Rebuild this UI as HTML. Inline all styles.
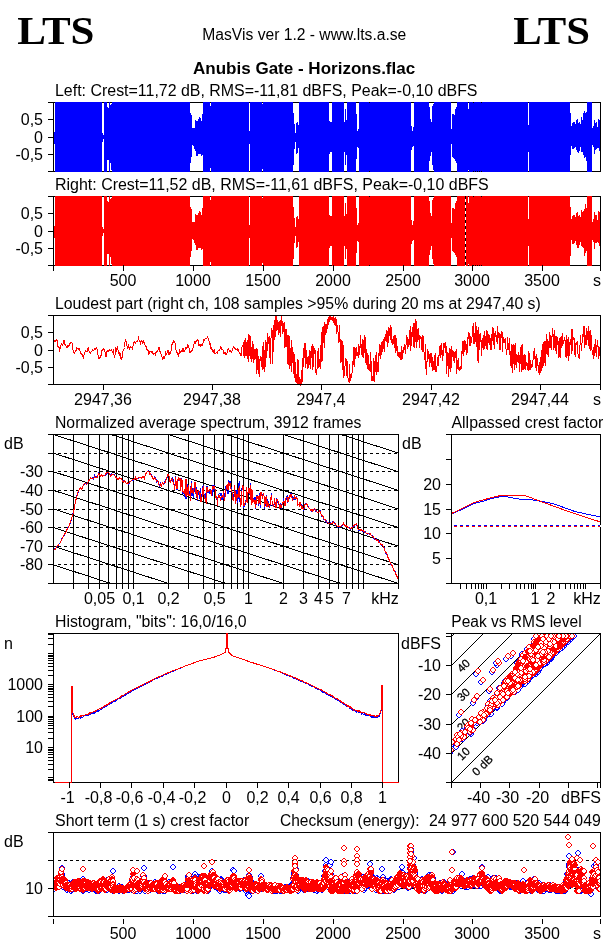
<!DOCTYPE html>
<html><head><meta charset="utf-8"><title>MasVis - Anubis Gate - Horizons.flac</title>
<style>html,body{margin:0;padding:0;background:#fff}body{width:606px;height:946px;overflow:hidden}text{fill:#000}</style>
</head><body>
<svg width="606" height="946" viewBox="0 0 606 946" shape-rendering="crispEdges" style="display:block">
<text x="17.2" y="44" font-size="40.8" font-weight="bold" font-family="'Liberation Serif', serif" text-anchor="start" textLength="77.3" lengthAdjust="spacingAndGlyphs">LTS</text>
<text x="513.2" y="44" font-size="40.8" font-weight="bold" font-family="'Liberation Serif', serif" text-anchor="start" textLength="76.8" lengthAdjust="spacingAndGlyphs">LTS</text>
<text x="202.3" y="40" font-size="16" font-weight="normal" font-family="'Liberation Sans', sans-serif" text-anchor="start" textLength="204" lengthAdjust="spacingAndGlyphs">MasVis ver 1.2 - www.lts.a.se</text>
<text x="193" y="74" font-size="16" font-weight="bold" font-family="'Liberation Sans', sans-serif" text-anchor="start" textLength="222.2" lengthAdjust="spacingAndGlyphs">Anubis Gate - Horizons.flac</text>
<text x="55.0" y="96" font-size="16" font-weight="normal" font-family="'Liberation Sans', sans-serif" text-anchor="start" textLength="422.5" lengthAdjust="spacingAndGlyphs">Left: Crest=11,72 dB, RMS=-11,81 dBFS, Peak=-0,10 dBFS</text>
<rect x="53.5" y="102.5" width="547" height="69" fill="none" stroke="#000"/>
<rect x="55" y="102" width="47" height="70" fill="#0000ff"/>
<rect x="102" y="133" width="1" height="9" fill="#0000ff"/>
<rect x="103" y="135" width="1" height="4" fill="#0000ff"/>
<rect x="104" y="102" width="3" height="70" fill="#0000ff"/>
<rect x="107" y="107" width="1" height="53" fill="#0000ff"/>
<rect x="108" y="108" width="1" height="52" fill="#0000ff"/>
<rect x="109" y="102" width="1" height="70" fill="#0000ff"/>
<rect x="110" y="105" width="1" height="58" fill="#0000ff"/>
<rect x="111" y="104" width="1" height="66" fill="#0000ff"/>
<rect x="112" y="102" width="78" height="70" fill="#0000ff"/>
<rect x="190" y="113" width="1" height="50" fill="#0000ff"/>
<rect x="191" y="115" width="1" height="42" fill="#0000ff"/>
<rect x="192" y="128" width="1" height="17" fill="#0000ff"/>
<rect x="193" y="128" width="1" height="18" fill="#0000ff"/>
<rect x="194" y="128" width="1" height="21" fill="#0000ff"/>
<rect x="195" y="120" width="1" height="31" fill="#0000ff"/>
<rect x="196" y="121" width="1" height="35" fill="#0000ff"/>
<rect x="197" y="121" width="1" height="35" fill="#0000ff"/>
<rect x="198" y="119" width="1" height="35" fill="#0000ff"/>
<rect x="199" y="117" width="1" height="37" fill="#0000ff"/>
<rect x="200" y="118" width="1" height="36" fill="#0000ff"/>
<rect x="201" y="121" width="1" height="35" fill="#0000ff"/>
<rect x="202" y="114" width="1" height="41" fill="#0000ff"/>
<rect x="203" y="102" width="7" height="70" fill="#0000ff"/>
<rect x="210" y="106" width="1" height="62" fill="#0000ff"/>
<rect x="211" y="102" width="38" height="70" fill="#0000ff"/>
<rect x="249" y="131" width="1" height="13" fill="#0000ff"/>
<rect x="250" y="102" width="12" height="70" fill="#0000ff"/>
<rect x="262" y="104" width="1" height="65" fill="#0000ff"/>
<rect x="263" y="102" width="30" height="70" fill="#0000ff"/>
<rect x="293" y="113" width="1" height="52" fill="#0000ff"/>
<rect x="294" y="124" width="1" height="25" fill="#0000ff"/>
<rect x="295" y="133" width="1" height="9" fill="#0000ff"/>
<rect x="296" y="123" width="1" height="31" fill="#0000ff"/>
<rect x="297" y="122" width="1" height="31" fill="#0000ff"/>
<rect x="298" y="125" width="1" height="23" fill="#0000ff"/>
<rect x="299" y="102" width="30" height="70" fill="#0000ff"/>
<rect x="329" y="121" width="1" height="33" fill="#0000ff"/>
<rect x="330" y="122" width="1" height="30" fill="#0000ff"/>
<rect x="331" y="122" width="1" height="30" fill="#0000ff"/>
<rect x="332" y="102" width="12" height="70" fill="#0000ff"/>
<rect x="344" y="122" width="1" height="30" fill="#0000ff"/>
<rect x="345" y="109" width="1" height="56" fill="#0000ff"/>
<rect x="346" y="120" width="1" height="35" fill="#0000ff"/>
<rect x="347" y="102" width="9" height="70" fill="#0000ff"/>
<rect x="356" y="114" width="1" height="45" fill="#0000ff"/>
<rect x="357" y="131" width="1" height="16" fill="#0000ff"/>
<rect x="358" y="129" width="1" height="19" fill="#0000ff"/>
<rect x="359" y="102" width="10" height="70" fill="#0000ff"/>
<rect x="369" y="103" width="1" height="68" fill="#0000ff"/>
<rect x="370" y="102" width="41" height="70" fill="#0000ff"/>
<rect x="411" y="126" width="1" height="24" fill="#0000ff"/>
<rect x="412" y="131" width="1" height="16" fill="#0000ff"/>
<rect x="413" y="127" width="1" height="19" fill="#0000ff"/>
<rect x="414" y="102" width="15" height="70" fill="#0000ff"/>
<rect x="429" y="107" width="1" height="54" fill="#0000ff"/>
<rect x="430" y="119" width="1" height="37" fill="#0000ff"/>
<rect x="431" y="122" width="1" height="30" fill="#0000ff"/>
<rect x="432" y="106" width="1" height="59" fill="#0000ff"/>
<rect x="433" y="104" width="1" height="66" fill="#0000ff"/>
<rect x="434" y="102" width="17" height="70" fill="#0000ff"/>
<rect x="451" y="129" width="1" height="15" fill="#0000ff"/>
<rect x="452" y="114" width="1" height="43" fill="#0000ff"/>
<rect x="453" y="114" width="1" height="44" fill="#0000ff"/>
<rect x="454" y="115" width="1" height="44" fill="#0000ff"/>
<rect x="455" y="109" width="1" height="52" fill="#0000ff"/>
<rect x="456" y="107" width="1" height="56" fill="#0000ff"/>
<rect x="457" y="102" width="11" height="70" fill="#0000ff"/>
<rect x="468" y="109" width="1" height="61" fill="#0000ff"/>
<rect x="469" y="102" width="4" height="70" fill="#0000ff"/>
<rect x="473" y="103" width="1" height="68" fill="#0000ff"/>
<rect x="474" y="102" width="1" height="70" fill="#0000ff"/>
<rect x="475" y="102" width="1" height="69" fill="#0000ff"/>
<rect x="476" y="102" width="1" height="70" fill="#0000ff"/>
<rect x="477" y="102" width="1" height="69" fill="#0000ff"/>
<rect x="478" y="102" width="1" height="70" fill="#0000ff"/>
<rect x="479" y="102" width="1" height="69" fill="#0000ff"/>
<rect x="480" y="102" width="1" height="70" fill="#0000ff"/>
<rect x="481" y="103" width="1" height="68" fill="#0000ff"/>
<rect x="482" y="102" width="46" height="70" fill="#0000ff"/>
<rect x="528" y="125" width="1" height="27" fill="#0000ff"/>
<rect x="529" y="102" width="41" height="70" fill="#0000ff"/>
<rect x="570" y="113" width="1" height="42" fill="#0000ff"/>
<rect x="571" y="126" width="1" height="20" fill="#0000ff"/>
<rect x="572" y="123" width="1" height="26" fill="#0000ff"/>
<rect x="573" y="122" width="1" height="27" fill="#0000ff"/>
<rect x="574" y="122" width="1" height="26" fill="#0000ff"/>
<rect x="575" y="124" width="1" height="23" fill="#0000ff"/>
<rect x="576" y="120" width="1" height="30" fill="#0000ff"/>
<rect x="577" y="119" width="1" height="33" fill="#0000ff"/>
<rect x="578" y="123" width="1" height="30" fill="#0000ff"/>
<rect x="579" y="122" width="1" height="29" fill="#0000ff"/>
<rect x="580" y="124" width="1" height="23" fill="#0000ff"/>
<rect x="581" y="117" width="1" height="35" fill="#0000ff"/>
<rect x="582" y="120" width="1" height="32" fill="#0000ff"/>
<rect x="583" y="113" width="1" height="42" fill="#0000ff"/>
<rect x="584" y="111" width="1" height="47" fill="#0000ff"/>
<rect x="585" y="113" width="1" height="44" fill="#0000ff"/>
<rect x="586" y="112" width="1" height="49" fill="#0000ff"/>
<rect x="587" y="102" width="5" height="70" fill="#0000ff"/>
<rect x="592" y="128" width="1" height="17" fill="#0000ff"/>
<rect x="593" y="126" width="1" height="21" fill="#0000ff"/>
<rect x="594" y="120" width="1" height="34" fill="#0000ff"/>
<rect x="595" y="123" width="1" height="27" fill="#0000ff"/>
<rect x="596" y="122" width="1" height="27" fill="#0000ff"/>
<rect x="597" y="127" width="1" height="21" fill="#0000ff"/>
<rect x="598" y="119" width="1" height="29" fill="#0000ff"/>
<rect x="599" y="120" width="1" height="31" fill="#0000ff"/>
<line x1="53.5" y1="102" x2="53.5" y2="172" stroke="#000" stroke-width="1"/>
<rect x="54" y="132" width="1" height="12" fill="#0000ff"/>
<line x1="48" y1="102.5" x2="53" y2="102.5" stroke="#000" stroke-width="1"/>
<line x1="48" y1="119.5" x2="53" y2="119.5" stroke="#000" stroke-width="1"/>
<text x="43" y="125" font-size="16" font-weight="normal" font-family="'Liberation Sans', sans-serif" text-anchor="end" >0,5</text>
<line x1="48" y1="137.5" x2="53" y2="137.5" stroke="#000" stroke-width="1"/>
<text x="43" y="143" font-size="16" font-weight="normal" font-family="'Liberation Sans', sans-serif" text-anchor="end" >0</text>
<line x1="48" y1="154.5" x2="53" y2="154.5" stroke="#000" stroke-width="1"/>
<text x="43" y="160" font-size="16" font-weight="normal" font-family="'Liberation Sans', sans-serif" text-anchor="end" >-0,5</text>
<line x1="48" y1="171.5" x2="53" y2="171.5" stroke="#000" stroke-width="1"/>
<text x="55.0" y="190" font-size="16" font-weight="normal" font-family="'Liberation Sans', sans-serif" text-anchor="start" textLength="433.7" lengthAdjust="spacingAndGlyphs">Right: Crest=11,52 dB, RMS=-11,61 dBFS, Peak=-0,10 dBFS</text>
<rect x="53.5" y="196.5" width="547" height="69" fill="none" stroke="#000"/>
<rect x="55" y="196" width="47" height="70" fill="#ff0000"/>
<rect x="102" y="227" width="1" height="9" fill="#ff0000"/>
<rect x="103" y="229" width="1" height="4" fill="#ff0000"/>
<rect x="104" y="196" width="3" height="70" fill="#ff0000"/>
<rect x="107" y="201" width="1" height="53" fill="#ff0000"/>
<rect x="108" y="202" width="1" height="52" fill="#ff0000"/>
<rect x="109" y="196" width="1" height="70" fill="#ff0000"/>
<rect x="110" y="199" width="1" height="58" fill="#ff0000"/>
<rect x="111" y="198" width="1" height="66" fill="#ff0000"/>
<rect x="112" y="196" width="78" height="70" fill="#ff0000"/>
<rect x="190" y="207" width="1" height="50" fill="#ff0000"/>
<rect x="191" y="209" width="1" height="42" fill="#ff0000"/>
<rect x="192" y="222" width="1" height="17" fill="#ff0000"/>
<rect x="193" y="222" width="1" height="18" fill="#ff0000"/>
<rect x="194" y="222" width="1" height="21" fill="#ff0000"/>
<rect x="195" y="214" width="1" height="31" fill="#ff0000"/>
<rect x="196" y="215" width="1" height="35" fill="#ff0000"/>
<rect x="197" y="215" width="1" height="35" fill="#ff0000"/>
<rect x="198" y="213" width="1" height="35" fill="#ff0000"/>
<rect x="199" y="211" width="1" height="37" fill="#ff0000"/>
<rect x="200" y="212" width="1" height="36" fill="#ff0000"/>
<rect x="201" y="215" width="1" height="35" fill="#ff0000"/>
<rect x="202" y="208" width="1" height="41" fill="#ff0000"/>
<rect x="203" y="196" width="7" height="70" fill="#ff0000"/>
<rect x="210" y="200" width="1" height="62" fill="#ff0000"/>
<rect x="211" y="196" width="38" height="70" fill="#ff0000"/>
<rect x="249" y="225" width="1" height="13" fill="#ff0000"/>
<rect x="250" y="196" width="12" height="70" fill="#ff0000"/>
<rect x="262" y="198" width="1" height="65" fill="#ff0000"/>
<rect x="263" y="196" width="30" height="70" fill="#ff0000"/>
<rect x="293" y="207" width="1" height="52" fill="#ff0000"/>
<rect x="294" y="218" width="1" height="25" fill="#ff0000"/>
<rect x="295" y="227" width="1" height="9" fill="#ff0000"/>
<rect x="296" y="217" width="1" height="31" fill="#ff0000"/>
<rect x="297" y="216" width="1" height="31" fill="#ff0000"/>
<rect x="298" y="219" width="1" height="23" fill="#ff0000"/>
<rect x="299" y="196" width="30" height="70" fill="#ff0000"/>
<rect x="329" y="215" width="1" height="33" fill="#ff0000"/>
<rect x="330" y="216" width="1" height="30" fill="#ff0000"/>
<rect x="331" y="216" width="1" height="30" fill="#ff0000"/>
<rect x="332" y="196" width="12" height="70" fill="#ff0000"/>
<rect x="344" y="216" width="1" height="30" fill="#ff0000"/>
<rect x="345" y="203" width="1" height="56" fill="#ff0000"/>
<rect x="346" y="214" width="1" height="35" fill="#ff0000"/>
<rect x="347" y="196" width="9" height="70" fill="#ff0000"/>
<rect x="356" y="208" width="1" height="45" fill="#ff0000"/>
<rect x="357" y="225" width="1" height="16" fill="#ff0000"/>
<rect x="358" y="223" width="1" height="19" fill="#ff0000"/>
<rect x="359" y="196" width="10" height="70" fill="#ff0000"/>
<rect x="369" y="197" width="1" height="68" fill="#ff0000"/>
<rect x="370" y="196" width="41" height="70" fill="#ff0000"/>
<rect x="411" y="220" width="1" height="24" fill="#ff0000"/>
<rect x="412" y="225" width="1" height="16" fill="#ff0000"/>
<rect x="413" y="221" width="1" height="19" fill="#ff0000"/>
<rect x="414" y="196" width="15" height="70" fill="#ff0000"/>
<rect x="429" y="201" width="1" height="54" fill="#ff0000"/>
<rect x="430" y="213" width="1" height="37" fill="#ff0000"/>
<rect x="431" y="216" width="1" height="30" fill="#ff0000"/>
<rect x="432" y="200" width="1" height="59" fill="#ff0000"/>
<rect x="433" y="198" width="1" height="66" fill="#ff0000"/>
<rect x="434" y="196" width="17" height="70" fill="#ff0000"/>
<rect x="451" y="223" width="1" height="15" fill="#ff0000"/>
<rect x="452" y="208" width="1" height="43" fill="#ff0000"/>
<rect x="453" y="208" width="1" height="44" fill="#ff0000"/>
<rect x="454" y="209" width="1" height="44" fill="#ff0000"/>
<rect x="455" y="203" width="1" height="52" fill="#ff0000"/>
<rect x="456" y="201" width="1" height="56" fill="#ff0000"/>
<rect x="457" y="196" width="11" height="70" fill="#ff0000"/>
<rect x="468" y="203" width="1" height="61" fill="#ff0000"/>
<rect x="469" y="196" width="4" height="70" fill="#ff0000"/>
<rect x="473" y="197" width="1" height="68" fill="#ff0000"/>
<rect x="474" y="196" width="1" height="70" fill="#ff0000"/>
<rect x="475" y="196" width="1" height="69" fill="#ff0000"/>
<rect x="476" y="196" width="1" height="70" fill="#ff0000"/>
<rect x="477" y="196" width="1" height="69" fill="#ff0000"/>
<rect x="478" y="196" width="1" height="70" fill="#ff0000"/>
<rect x="479" y="196" width="1" height="69" fill="#ff0000"/>
<rect x="480" y="196" width="1" height="70" fill="#ff0000"/>
<rect x="481" y="197" width="1" height="68" fill="#ff0000"/>
<rect x="482" y="196" width="46" height="70" fill="#ff0000"/>
<rect x="528" y="219" width="1" height="27" fill="#ff0000"/>
<rect x="529" y="196" width="41" height="70" fill="#ff0000"/>
<rect x="570" y="207" width="1" height="49" fill="#ff0000"/>
<rect x="571" y="219" width="1" height="21" fill="#ff0000"/>
<rect x="572" y="216" width="1" height="28" fill="#ff0000"/>
<rect x="573" y="215" width="1" height="29" fill="#ff0000"/>
<rect x="574" y="215" width="1" height="28" fill="#ff0000"/>
<rect x="575" y="217" width="1" height="24" fill="#ff0000"/>
<rect x="576" y="213" width="1" height="32" fill="#ff0000"/>
<rect x="577" y="212" width="1" height="36" fill="#ff0000"/>
<rect x="578" y="216" width="1" height="32" fill="#ff0000"/>
<rect x="579" y="215" width="1" height="30" fill="#ff0000"/>
<rect x="580" y="217" width="1" height="25" fill="#ff0000"/>
<rect x="581" y="210" width="1" height="36" fill="#ff0000"/>
<rect x="582" y="212" width="1" height="35" fill="#ff0000"/>
<rect x="583" y="211" width="1" height="37" fill="#ff0000"/>
<rect x="584" y="209" width="1" height="47" fill="#ff0000"/>
<rect x="585" y="204" width="1" height="49" fill="#ff0000"/>
<rect x="586" y="208" width="1" height="43" fill="#ff0000"/>
<rect x="587" y="196" width="5" height="70" fill="#ff0000"/>
<rect x="592" y="222" width="1" height="18" fill="#ff0000"/>
<rect x="593" y="219" width="1" height="23" fill="#ff0000"/>
<rect x="594" y="212" width="1" height="37" fill="#ff0000"/>
<rect x="595" y="215" width="1" height="28" fill="#ff0000"/>
<rect x="596" y="215" width="1" height="28" fill="#ff0000"/>
<rect x="597" y="220" width="1" height="22" fill="#ff0000"/>
<rect x="598" y="211" width="1" height="32" fill="#ff0000"/>
<rect x="599" y="212" width="1" height="34" fill="#ff0000"/>
<line x1="53.5" y1="196" x2="53.5" y2="266" stroke="#000" stroke-width="1"/>
<rect x="54" y="226" width="1" height="12" fill="#ff0000"/>
<line x1="48" y1="196.5" x2="53" y2="196.5" stroke="#000" stroke-width="1"/>
<line x1="48" y1="213.5" x2="53" y2="213.5" stroke="#000" stroke-width="1"/>
<text x="43" y="219" font-size="16" font-weight="normal" font-family="'Liberation Sans', sans-serif" text-anchor="end" >0,5</text>
<line x1="48" y1="231.5" x2="53" y2="231.5" stroke="#000" stroke-width="1"/>
<text x="43" y="237" font-size="16" font-weight="normal" font-family="'Liberation Sans', sans-serif" text-anchor="end" >0</text>
<line x1="48" y1="248.5" x2="53" y2="248.5" stroke="#000" stroke-width="1"/>
<text x="43" y="254" font-size="16" font-weight="normal" font-family="'Liberation Sans', sans-serif" text-anchor="end" >-0,5</text>
<line x1="48" y1="265.5" x2="53" y2="265.5" stroke="#000" stroke-width="1"/>
<line x1="53.5" y1="265" x2="53.5" y2="271" stroke="#000" stroke-width="1"/>
<line x1="123.5" y1="265" x2="123.5" y2="271" stroke="#000" stroke-width="1"/>
<text x="123" y="286" font-size="16" font-weight="normal" font-family="'Liberation Sans', sans-serif" text-anchor="middle" >500</text>
<line x1="193.5" y1="265" x2="193.5" y2="271" stroke="#000" stroke-width="1"/>
<text x="193" y="286" font-size="16" font-weight="normal" font-family="'Liberation Sans', sans-serif" text-anchor="middle" >1000</text>
<line x1="263.5" y1="265" x2="263.5" y2="271" stroke="#000" stroke-width="1"/>
<text x="263" y="286" font-size="16" font-weight="normal" font-family="'Liberation Sans', sans-serif" text-anchor="middle" >1500</text>
<line x1="333.5" y1="265" x2="333.5" y2="271" stroke="#000" stroke-width="1"/>
<text x="333" y="286" font-size="16" font-weight="normal" font-family="'Liberation Sans', sans-serif" text-anchor="middle" >2000</text>
<line x1="403.5" y1="265" x2="403.5" y2="271" stroke="#000" stroke-width="1"/>
<text x="403" y="286" font-size="16" font-weight="normal" font-family="'Liberation Sans', sans-serif" text-anchor="middle" >2500</text>
<line x1="472.5" y1="265" x2="472.5" y2="271" stroke="#000" stroke-width="1"/>
<text x="472" y="286" font-size="16" font-weight="normal" font-family="'Liberation Sans', sans-serif" text-anchor="middle" >3000</text>
<line x1="542.5" y1="265" x2="542.5" y2="271" stroke="#000" stroke-width="1"/>
<text x="542" y="286" font-size="16" font-weight="normal" font-family="'Liberation Sans', sans-serif" text-anchor="middle" >3500</text>
<line x1="600.5" y1="265" x2="600.5" y2="271" stroke="#000" stroke-width="1"/>
<text x="597" y="286" font-size="16" font-weight="normal" font-family="'Liberation Sans', sans-serif" text-anchor="middle" >s</text>
<line x1="465.5" y1="196" x2="465.5" y2="266" stroke="#fff" stroke-width="1"/>
<line x1="465.5" y1="196" x2="465.5" y2="266" stroke="#000" stroke-width="1" stroke-dasharray="3,3"/>
<text x="55.0" y="309" font-size="16" font-weight="normal" font-family="'Liberation Sans', sans-serif" text-anchor="start" textLength="485.8" lengthAdjust="spacingAndGlyphs">Loudest part (right ch, 108 samples &gt;95% during 20 ms at 2947,40 s)</text>
<polyline fill="none" stroke="#ff0000" stroke-width="1" points="54.5,342.4 54.9,340.8 55.3,341.7 55.7,341.9 56.1,340.1 56.5,339.3 56.9,339.5 57.3,342.5 57.7,346.3 58.1,347.7 58.5,346.7 58.9,346.6 59.3,349.6 59.7,350.7 60.1,348.8 60.5,347.3 60.9,345.1 61.3,343.8 61.7,343.7 62.1,343.9 62.5,345.4 62.9,345.1 63.3,342.4 63.7,340.5 64.1,340.3 64.5,341.9 64.9,345.0 65.3,345.5 65.7,344.7 66.1,345.9 66.5,346.8 66.9,347.6 67.3,347.2 67.7,345.7 68.1,345.5 68.5,346.5 68.9,346.3 69.3,343.7 69.7,343.4 70.1,344.2 70.5,343.2 70.9,342.6 71.3,342.8 71.7,343.0 72.1,343.2 72.5,345.4 72.9,349.4 73.3,351.9 73.7,352.3 74.1,352.5 74.5,352.9 74.9,352.0 75.3,350.6 75.7,351.3 76.1,351.0 76.5,348.1 76.9,347.4 77.3,348.8 77.7,348.6 78.1,348.6 78.5,349.5 78.9,350.0 79.3,348.8 79.7,349.1 80.1,351.5 80.5,352.7 80.9,353.2 81.3,354.0 81.7,355.0 82.1,355.3 82.5,354.9 82.9,356.5 83.3,357.6 83.7,355.8 84.1,354.6 84.5,353.8 84.9,352.2 85.3,350.1 85.7,350.0 86.1,351.7 86.5,351.8 86.9,351.5 87.3,351.1 87.7,349.3 88.1,347.4 88.5,347.5 88.9,350.4 89.3,352.3 89.7,352.8 90.1,353.3 90.5,353.4 90.9,352.5 91.3,351.4 91.7,351.6 92.1,350.9 92.5,349.9 92.9,349.8 93.3,350.5 93.7,350.9 94.1,349.9 94.5,348.1 94.9,348.2 95.3,349.2 95.7,348.2 96.1,347.7 96.5,348.0 96.9,348.8 97.3,349.9 97.7,352.4 98.1,356.1 98.5,358.3 98.9,357.7 99.3,357.3 99.7,358.1 100.1,358.0 100.5,357.0 100.9,355.8 101.3,354.5 101.7,351.7 102.1,349.5 102.5,349.8 102.9,350.3 103.3,349.1 103.7,348.8 104.1,349.6 104.5,350.8 104.9,351.5 105.3,353.4 105.7,356.3 106.1,356.4 106.5,354.1 106.9,351.4 107.3,350.9 107.7,351.7 108.1,352.0 108.5,351.5 108.9,351.0 109.3,349.4 109.7,349.4 110.1,350.9 110.5,350.8 110.9,350.9 111.3,350.0 111.7,349.5 112.1,351.2 112.5,352.0 112.9,351.4 113.3,350.6 113.7,352.1 114.1,356.1 114.5,358.0 114.9,355.8 115.3,351.6 115.7,349.1 116.1,350.0 116.5,350.6 116.9,348.7 117.3,347.2 117.7,348.5 118.1,350.3 118.5,351.0 118.9,354.0 119.3,355.5 119.7,353.1 120.1,353.5 120.5,357.3 120.9,358.5 121.3,357.6 121.7,358.8 122.1,358.2 122.5,354.3 122.9,351.1 123.3,350.3 123.7,349.2 124.1,348.7 124.5,347.5 124.9,343.5 125.3,339.6 125.7,339.7 126.1,341.7 126.5,342.8 126.9,345.2 127.3,347.2 127.7,348.1 128.1,347.7 128.5,345.6 128.9,346.7 129.3,349.1 129.7,348.9 130.1,348.2 130.5,346.8 130.9,346.6 131.3,347.4 131.7,347.4 132.1,348.7 132.5,349.0 132.9,346.8 133.3,344.2 133.7,343.0 134.1,342.6 134.5,342.2 134.9,343.0 135.3,343.4 135.7,342.5 136.1,341.6 136.5,341.4 136.9,341.7 137.3,341.6 137.7,341.3 138.1,339.6 138.5,337.9 138.9,339.2 139.3,340.7 139.7,340.8 140.1,342.3 140.5,343.4 140.9,341.6 141.3,340.4 141.7,341.4 142.1,342.7 142.5,343.2 142.9,341.8 143.3,341.2 143.7,342.5 144.1,342.8 144.5,342.9 144.9,344.6 145.3,346.7 145.7,346.6 146.1,346.1 146.5,347.7 146.9,349.4 147.3,349.6 147.7,349.4 148.1,350.8 148.5,353.6 148.9,354.4 149.3,353.7 149.7,352.0 150.1,350.9 150.5,351.3 150.9,351.0 151.3,351.5 151.7,352.5 152.1,352.1 152.5,351.8 152.9,353.1 153.3,354.5 153.7,354.4 154.1,354.2 154.5,353.7 154.9,354.0 155.3,354.9 155.7,353.1 156.1,351.2 156.5,352.0 156.9,352.5 157.3,351.9 157.7,350.3 158.1,349.5 158.5,349.3 158.9,347.3 159.3,347.9 159.7,351.0 160.1,352.6 160.5,351.9 160.9,352.9 161.3,355.7 161.7,356.7 162.1,357.2 162.5,359.5 162.9,359.8 163.3,358.1 163.7,356.5 164.1,356.3 164.5,358.0 164.9,357.1 165.3,353.2 165.7,351.8 166.1,353.2 166.5,354.3 166.9,353.9 167.3,352.0 167.7,350.5 168.1,350.6 168.5,352.2 168.9,354.6 169.3,354.8 169.7,352.3 170.1,352.0 170.5,353.0 170.9,351.7 171.3,347.9 171.7,345.1 172.1,344.5 172.5,344.7 172.9,343.0 173.3,341.4 173.7,340.5 174.1,341.0 174.5,342.2 174.9,342.6 175.3,344.3 175.7,348.4 176.1,351.0 176.5,351.2 176.9,352.4 177.3,353.7 177.7,352.5 178.1,353.0 178.5,355.7 178.9,354.9 179.3,350.7 179.7,349.9 180.1,351.9 180.5,352.4 180.9,352.4 181.3,351.8 181.7,351.0 182.1,351.2 182.5,349.8 182.9,347.8 183.3,349.1 183.7,351.3 184.1,351.2 184.5,350.1 184.9,349.9 185.3,349.4 185.7,347.7 186.1,347.4 186.5,348.8 186.9,348.9 187.3,346.8 187.7,345.2 188.1,345.5 188.5,345.6 188.9,346.6 189.3,350.1 189.7,352.6 190.1,353.0 190.5,352.6 190.9,351.3 191.3,350.9 191.7,351.7 192.1,350.5 192.5,348.9 192.9,348.3 193.3,347.5 193.7,346.2 194.1,343.7 194.5,342.4 194.9,343.5 195.3,343.5 195.7,341.7 196.1,341.1 196.5,341.5 196.9,340.8 197.3,340.7 197.7,339.9 198.1,340.5 198.5,343.8 198.9,345.4 199.3,345.6 199.7,345.1 200.1,344.5 200.5,345.9 200.9,346.3 201.3,345.3 201.7,344.3 202.1,343.7 202.5,344.7 202.9,343.8 203.3,340.9 203.7,339.9 204.1,340.2 204.5,340.1 204.9,339.0 205.3,338.8 205.7,338.6 206.1,338.1 206.5,338.6 206.9,338.0 207.3,336.9 207.7,337.5 208.1,338.6 208.5,340.1 208.9,340.2 209.3,342.2 209.7,344.0 210.1,343.6 210.5,345.7 210.9,349.0 211.3,349.1 211.7,347.7 212.1,348.9 212.5,350.8 212.9,351.4 213.3,352.1 213.7,351.2 214.1,349.4 214.5,351.2 214.9,353.9 215.3,353.9 215.7,353.3 216.1,352.7 216.5,352.3 216.9,353.0 217.3,353.3 217.7,352.4 218.1,351.1 218.5,350.5 218.9,349.9 219.3,350.0 219.7,350.0 220.1,349.2 220.5,347.4 220.9,346.6 221.3,349.3 221.7,349.6 222.1,348.8 222.5,349.5 222.9,349.8 223.3,351.0 223.7,353.1 224.1,353.3 224.5,352.2 224.9,352.2 225.3,353.3 225.7,354.4 226.1,355.1 226.5,354.8 226.9,353.9 227.3,351.9 227.7,350.1 228.1,349.2 228.5,348.8 228.9,349.9 229.3,351.8 229.7,351.7 230.1,350.2 230.5,350.7 230.9,351.5 231.3,351.9 231.7,352.1 232.1,350.8 232.5,349.6 232.9,348.6 233.3,346.6 233.7,346.5 234.1,348.3 234.5,348.3 234.9,347.5 235.3,348.5 235.7,349.9 236.1,349.8 236.5,349.8 236.9,349.6 237.3,349.1 237.7,350.7 238.1,351.0 238.5,350.3 238.9,351.9 239.3,353.3 239.7,353.2 240.1,353.2 240.5,354.2 240.9,355.6 241.3,355.1 241.7,351.4 242.1,345.4 242.5,346.3 242.9,345.8 243.3,341.8 243.7,346.2 244.1,358.3 244.5,339.9 244.9,344.3 245.3,356.4 245.7,337.7 246.1,343.2 246.5,348.7 246.9,355.4 247.3,358.6 247.7,340.0 248.1,362.1 248.5,345.1 248.9,335.4 249.3,336.1 249.7,345.7 250.1,359.1 250.5,336.1 250.9,341.6 251.3,360.3 251.7,361.5 252.1,344.2 252.5,341.3 252.9,358.3 253.3,362.6 253.7,344.5 254.1,357.1 254.5,348.7 254.9,360.4 255.3,348.8 255.7,349.7 256.1,360.8 256.5,373.7 256.9,348.2 257.3,350.5 257.7,353.8 258.1,373.7 258.5,355.8 258.9,357.2 259.3,362.3 259.7,377.3 260.1,355.7 260.5,360.6 260.9,359.7 261.3,359.5 261.7,356.7 262.1,369.8 262.5,346.4 262.9,355.7 263.3,341.7 263.7,368.8 264.1,349.8 264.5,372.3 264.9,357.8 265.3,339.8 265.7,366.8 266.1,341.7 266.5,354.1 266.9,358.3 267.3,332.7 267.7,335.0 268.1,343.5 268.5,340.3 268.9,338.0 269.3,335.6 269.7,338.4 270.1,363.8 270.5,340.9 270.9,340.2 271.3,331.5 271.7,328.5 272.1,330.5 272.5,363.1 272.9,363.7 273.3,325.1 273.7,333.1 274.1,339.9 274.5,335.6 274.9,321.2 275.3,315.8 275.7,337.3 276.1,316.5 276.5,322.1 276.9,331.3 277.3,327.6 277.7,320.5 278.1,329.6 278.5,335.0 278.9,321.8 279.3,332.7 279.7,322.9 280.1,320.5 280.5,336.7 280.9,330.6 281.3,316.3 281.7,324.0 282.1,320.7 282.5,323.4 282.9,333.5 283.3,322.7 283.7,331.6 284.1,322.2 284.5,329.2 284.9,347.8 285.3,343.5 285.7,330.5 286.1,328.9 286.5,343.8 286.9,340.4 287.3,363.8 287.7,335.5 288.1,365.3 288.5,335.0 288.9,364.0 289.3,369.1 289.7,336.3 290.1,351.0 290.5,366.4 290.9,352.4 291.3,339.7 291.7,371.8 292.1,360.2 292.5,349.7 292.9,347.0 293.3,365.5 293.7,359.5 294.1,378.2 294.5,357.5 294.9,353.7 295.3,382.4 295.7,367.7 296.1,381.4 296.5,373.9 296.9,382.8 297.3,384.5 297.7,359.4 298.1,365.0 298.5,359.7 298.9,384.5 299.3,377.0 299.7,383.9 300.1,384.5 300.5,378.9 300.9,381.6 301.3,384.0 301.7,370.3 302.1,377.2 302.5,381.9 302.9,361.5 303.3,349.3 303.7,366.8 304.1,342.9 304.5,352.1 304.9,353.7 305.3,367.8 305.7,343.3 306.1,352.2 306.5,352.0 306.9,362.7 307.3,369.2 307.7,357.4 308.1,367.8 308.5,356.1 308.9,358.3 309.3,353.2 309.7,349.7 310.1,369.3 310.5,360.6 310.9,351.0 311.3,358.3 311.7,354.3 312.1,344.2 312.5,363.4 312.9,369.7 313.3,360.1 313.7,346.4 314.1,354.2 314.5,349.0 314.9,348.7 315.3,352.8 315.7,373.1 316.1,371.7 316.5,370.5 316.9,375.4 317.3,350.7 317.7,354.5 318.1,350.0 318.5,349.4 318.9,367.8 319.3,358.8 319.7,361.8 320.1,368.9 320.5,348.6 320.9,344.9 321.3,361.9 321.7,331.9 322.1,361.3 322.5,340.4 322.9,326.6 323.3,332.3 323.7,326.3 324.1,347.5 324.5,323.5 324.9,322.4 325.3,334.7 325.7,323.7 326.1,324.5 326.5,332.8 326.9,324.2 327.3,328.8 327.7,320.5 328.1,318.1 328.5,316.9 328.9,325.0 329.3,316.4 329.7,315.6 330.1,315.8 330.5,317.7 330.9,319.1 331.3,317.7 331.7,318.9 332.1,317.9 332.5,320.6 332.9,319.3 333.3,316.1 333.7,317.2 334.1,325.0 334.5,318.2 334.9,321.3 335.3,316.7 335.7,324.3 336.1,326.4 336.5,318.6 336.9,334.4 337.3,325.0 337.7,325.1 338.1,334.2 338.5,341.5 338.9,342.7 339.3,338.7 339.7,325.2 340.1,342.3 340.5,350.4 340.9,362.7 341.3,340.3 341.7,353.2 342.1,364.7 342.5,369.5 342.9,341.3 343.3,378.1 343.7,345.2 344.1,375.9 344.5,375.6 344.9,366.6 345.3,364.6 345.7,357.7 346.1,359.8 346.5,375.6 346.9,369.7 347.3,364.7 347.7,361.1 348.1,382.1 348.5,381.4 348.9,382.1 349.3,383.2 349.7,364.1 350.1,380.4 350.5,374.0 350.9,380.5 351.3,373.2 351.7,375.2 352.1,372.9 352.5,364.7 352.9,367.2 353.3,347.3 353.7,355.8 354.1,366.8 354.5,347.4 354.9,352.8 355.3,359.0 355.7,354.2 356.1,346.9 356.5,348.5 356.9,355.9 357.3,352.7 357.7,352.5 358.1,357.6 358.5,357.3 358.9,344.3 359.3,354.7 359.7,346.0 360.1,347.6 360.5,335.5 360.9,340.2 361.3,353.5 361.7,354.1 362.1,343.1 362.5,339.5 362.9,356.9 363.3,348.5 363.7,358.2 364.1,335.1 364.5,353.4 364.9,345.0 365.3,336.6 365.7,354.5 366.1,365.0 366.5,355.7 366.9,348.9 367.3,363.5 367.7,368.7 368.1,367.3 368.5,354.9 368.9,369.9 369.3,370.9 369.7,364.1 370.1,372.4 370.5,352.4 370.9,358.7 371.3,365.6 371.7,380.5 372.1,376.0 372.5,376.3 372.9,381.0 373.3,379.6 373.7,358.0 374.1,382.1 374.5,377.9 374.9,360.7 375.3,371.6 375.7,366.5 376.1,352.2 376.5,374.6 376.9,360.1 377.3,367.2 377.7,371.1 378.1,372.2 378.5,360.2 378.9,356.8 379.3,344.1 379.7,345.7 380.1,358.7 380.5,345.2 380.9,352.0 381.3,342.3 381.7,354.6 382.1,340.7 382.5,351.8 382.9,343.6 383.3,349.0 383.7,338.9 384.1,351.7 384.5,339.7 384.9,337.2 385.3,337.1 385.7,334.2 386.1,342.2 386.5,330.6 386.9,329.9 387.3,346.7 387.7,330.6 388.1,342.8 388.5,327.2 388.9,339.0 389.3,327.6 389.7,333.8 390.1,333.1 390.5,339.6 390.9,324.6 391.3,331.5 391.7,343.0 392.1,343.1 392.5,343.9 392.9,339.0 393.3,343.7 393.7,337.1 394.1,335.3 394.5,347.6 394.9,339.7 395.3,335.1 395.7,353.0 396.1,337.9 396.5,351.1 396.9,342.1 397.3,354.2 397.7,350.9 398.1,356.7 398.5,352.0 398.9,356.2 399.3,352.0 399.7,358.0 400.1,352.0 400.5,359.6 400.9,356.1 401.3,359.6 401.7,346.5 402.1,351.4 402.5,359.3 402.9,349.7 403.3,353.4 403.7,351.4 404.1,346.2 404.5,345.5 404.9,349.8 405.3,346.8 405.7,354.2 406.1,342.9 406.5,338.1 406.9,335.5 407.3,340.0 407.7,349.2 408.1,346.9 408.5,340.1 408.9,339.5 409.3,341.7 409.7,344.9 410.1,326.2 410.5,351.1 410.9,349.7 411.3,336.5 411.7,332.4 412.1,337.2 412.5,335.1 412.9,328.8 413.3,322.6 413.7,341.5 414.1,348.2 414.5,336.4 414.9,323.1 415.3,325.7 415.7,318.8 416.1,348.3 416.5,321.0 416.9,325.3 417.3,336.8 417.7,341.6 418.1,333.5 418.5,328.1 418.9,336.5 419.3,347.5 419.7,335.0 420.1,338.7 420.5,335.7 420.9,338.6 421.3,338.1 421.7,342.6 422.1,351.5 422.5,351.7 422.9,335.2 423.3,338.4 423.7,342.9 424.1,354.3 424.5,357.7 424.9,359.5 425.3,344.5 425.7,346.0 426.1,374.8 426.5,360.6 426.9,367.5 427.3,348.6 427.7,361.3 428.1,351.4 428.5,356.6 428.9,355.6 429.3,367.2 429.7,353.6 430.1,362.9 430.5,352.9 430.9,360.4 431.3,366.9 431.7,353.2 432.1,357.8 432.5,371.4 432.9,368.3 433.3,370.2 433.7,364.0 434.1,359.6 434.5,354.9 434.9,370.0 435.3,353.4 435.7,371.1 436.1,370.8 436.5,371.0 436.9,366.7 437.3,363.6 437.7,356.8 438.1,366.3 438.5,359.7 438.9,357.3 439.3,347.6 439.7,346.4 440.1,358.1 440.5,345.3 440.9,356.8 441.3,350.7 441.7,342.8 442.1,352.2 442.5,356.7 442.9,361.3 443.3,343.4 443.7,345.9 444.1,347.2 444.5,347.3 444.9,343.2 445.3,346.3 445.7,342.2 446.1,355.3 446.5,374.4 446.9,346.3 447.3,366.3 447.7,358.3 448.1,352.9 448.5,353.1 448.9,377.0 449.3,347.7 449.7,360.3 450.1,358.3 450.5,371.9 450.9,350.0 451.3,345.9 451.7,368.3 452.1,353.6 452.5,355.9 452.9,350.1 453.3,352.7 453.7,353.2 454.1,362.7 454.5,352.4 454.9,353.9 455.3,357.6 455.7,357.3 456.1,348.9 456.5,374.2 456.9,369.8 457.3,368.1 457.7,366.1 458.1,358.4 458.5,365.5 458.9,370.0 459.3,367.0 459.7,371.1 460.1,367.8 460.5,365.7 460.9,370.1 461.3,365.9 461.7,350.8 462.1,354.2 462.5,341.2 462.9,349.0 463.3,355.8 463.7,340.9 464.1,351.8 464.5,343.5 464.9,340.3 465.3,343.4 465.7,350.1 466.1,345.1 466.5,344.1 466.9,354.9 467.3,349.3 467.7,346.3 468.1,334.2 468.5,331.6 468.9,338.5 469.3,332.6 469.7,343.1 470.1,346.4 470.5,342.6 470.9,336.2 471.3,342.9 471.7,340.2 472.1,336.0 472.5,337.2 472.9,327.3 473.3,322.6 473.7,342.8 474.1,343.6 474.5,332.6 474.9,334.7 475.3,342.0 475.7,322.0 476.1,342.4 476.5,347.0 476.9,326.3 477.3,337.6 477.7,352.3 478.1,363.0 478.5,333.0 478.9,327.2 479.3,350.1 479.7,344.9 480.1,340.7 480.5,339.7 480.9,333.4 481.3,356.0 481.7,343.9 482.1,338.7 482.5,338.7 482.9,347.5 483.3,335.2 483.7,349.6 484.1,348.6 484.5,331.0 484.9,345.8 485.3,337.2 485.7,336.0 486.1,348.5 486.5,330.0 486.9,339.2 487.3,350.4 487.7,331.2 488.1,342.9 488.5,335.3 488.9,334.8 489.3,336.8 489.7,344.7 490.1,337.7 490.5,344.5 490.9,349.7 491.3,349.5 491.7,339.2 492.1,332.0 492.5,341.4 492.9,326.7 493.3,332.9 493.7,331.8 494.1,348.6 494.5,337.8 494.9,333.5 495.3,330.7 495.7,336.1 496.1,335.9 496.5,341.8 496.9,334.8 497.3,344.2 497.7,325.7 498.1,337.9 498.5,334.2 498.9,331.7 499.3,336.1 499.7,350.1 500.1,334.5 500.5,350.2 500.9,339.1 501.3,336.8 501.7,330.9 502.1,332.6 502.5,352.1 502.9,336.1 503.3,340.5 503.7,343.2 504.1,338.9 504.5,341.5 504.9,341.4 505.3,346.5 505.7,337.6 506.1,352.2 506.5,348.8 506.9,355.2 507.3,337.2 507.7,338.6 508.1,350.1 508.5,348.1 508.9,345.6 509.3,338.5 509.7,355.4 510.1,351.2 510.5,352.6 510.9,366.3 511.3,344.3 511.7,350.3 512.1,372.5 512.5,354.2 512.9,344.9 513.3,349.7 513.7,344.2 514.1,370.2 514.5,351.0 514.9,345.7 515.3,343.0 515.7,365.0 516.1,359.0 516.5,368.0 516.9,354.3 517.3,355.8 517.7,359.2 518.1,362.5 518.5,359.6 518.9,351.9 519.3,361.2 519.7,372.3 520.1,361.1 520.5,357.6 520.9,346.8 521.3,372.2 521.7,345.3 522.1,344.9 522.5,354.6 522.9,369.6 523.3,354.7 523.7,369.9 524.1,369.0 524.5,354.2 524.9,361.2 525.3,354.9 525.7,370.0 526.1,365.0 526.5,365.1 526.9,362.9 527.3,363.6 527.7,365.9 528.1,370.7 528.5,354.2 528.9,350.9 529.3,356.6 529.7,368.6 530.1,370.4 530.5,359.6 530.9,362.8 531.3,367.9 531.7,366.7 532.1,366.5 532.5,361.0 532.9,363.3 533.3,351.2 533.7,360.1 534.1,348.2 534.5,358.8 534.9,351.3 535.3,368.0 535.7,367.6 536.1,362.9 536.5,370.5 536.9,354.4 537.3,366.2 537.7,360.4 538.1,366.9 538.5,368.4 538.9,372.7 539.3,373.3 539.7,361.8 540.1,372.7 540.5,357.4 540.9,366.9 541.3,360.5 541.7,370.7 542.1,344.1 542.5,365.5 542.9,367.5 543.3,362.6 543.7,342.1 544.1,358.5 544.5,363.2 544.9,340.8 545.3,365.7 545.7,344.7 546.1,339.5 546.5,353.7 546.9,334.1 547.3,351.4 547.7,346.4 548.1,357.2 548.5,341.3 548.9,346.6 549.3,332.3 549.7,344.0 550.1,348.4 550.5,335.2 550.9,339.6 551.3,350.0 551.7,340.9 552.1,335.3 552.5,331.8 552.9,327.9 553.3,349.8 553.7,340.3 554.1,335.4 554.5,329.9 554.9,347.0 555.3,351.3 555.7,335.9 556.1,338.1 556.5,353.8 556.9,335.8 557.3,339.1 557.7,340.5 558.1,346.3 558.5,341.5 558.9,357.7 559.3,354.1 559.7,341.4 560.1,336.8 560.5,357.5 560.9,352.1 561.3,339.9 561.7,347.4 562.1,332.7 562.5,336.1 562.9,345.5 563.3,339.7 563.7,340.9 564.1,339.6 564.5,336.7 564.9,339.0 565.3,346.6 565.7,357.3 566.1,335.0 566.5,357.9 566.9,339.1 567.3,345.2 567.7,339.2 568.1,361.3 568.5,351.0 568.9,337.5 569.3,355.9 569.7,346.7 570.1,344.7 570.5,339.9 570.9,339.2 571.3,353.8 571.7,330.4 572.1,329.3 572.5,350.6 572.9,339.8 573.3,338.2 573.7,339.3 574.1,338.2 574.5,347.1 574.9,353.6 575.3,357.4 575.7,346.7 576.1,341.7 576.5,345.0 576.9,343.1 577.3,349.2 577.7,341.0 578.1,357.7 578.5,353.7 578.9,357.3 579.3,359.3 579.7,357.3 580.1,340.9 580.5,335.1 580.9,339.5 581.3,351.2 581.7,350.3 582.1,341.2 582.5,333.8 582.9,339.6 583.3,331.2 583.7,328.0 584.1,325.9 584.5,326.1 584.9,347.8 585.3,339.0 585.7,334.7 586.1,344.5 586.5,338.2 586.9,327.6 587.3,339.9 587.7,332.5 588.1,336.4 588.5,346.3 588.9,325.8 589.3,348.8 589.7,331.1 590.1,330.8 590.5,336.9 590.9,351.1 591.3,339.5 591.7,335.0 592.1,354.3 592.5,350.9 592.9,354.1 593.3,354.2 593.7,359.1 594.1,343.6 594.5,355.9 594.9,346.2 595.3,346.9 595.7,338.8 596.1,356.6 596.5,351.2 596.9,346.4 597.3,340.4 597.7,344.5 598.1,347.0 598.5,353.9 598.9,358.5 599.3,348.7 599.7,347.3"/>
<rect x="53.5" y="315.5" width="547" height="69" fill="none" stroke="#000"/>
<line x1="48" y1="332.5" x2="53" y2="332.5" stroke="#000" stroke-width="1"/>
<text x="43" y="338" font-size="16" font-weight="normal" font-family="'Liberation Sans', sans-serif" text-anchor="end" >0,5</text>
<line x1="48" y1="350.5" x2="53" y2="350.5" stroke="#000" stroke-width="1"/>
<text x="43" y="356" font-size="16" font-weight="normal" font-family="'Liberation Sans', sans-serif" text-anchor="end" >0</text>
<line x1="48" y1="367.5" x2="53" y2="367.5" stroke="#000" stroke-width="1"/>
<text x="43" y="373" font-size="16" font-weight="normal" font-family="'Liberation Sans', sans-serif" text-anchor="end" >-0,5</text>
<line x1="48" y1="315.5" x2="53" y2="315.5" stroke="#000" stroke-width="1"/>
<line x1="48" y1="384.5" x2="53" y2="384.5" stroke="#000" stroke-width="1"/>
<line x1="103.5" y1="384" x2="103.5" y2="390" stroke="#000" stroke-width="1"/>
<text x="103" y="405" font-size="16" font-weight="normal" font-family="'Liberation Sans', sans-serif" text-anchor="middle" >2947,36</text>
<line x1="212.5" y1="384" x2="212.5" y2="390" stroke="#000" stroke-width="1"/>
<text x="212" y="405" font-size="16" font-weight="normal" font-family="'Liberation Sans', sans-serif" text-anchor="middle" >2947,38</text>
<line x1="321.5" y1="384" x2="321.5" y2="390" stroke="#000" stroke-width="1"/>
<text x="321" y="405" font-size="16" font-weight="normal" font-family="'Liberation Sans', sans-serif" text-anchor="middle" >2947,4</text>
<line x1="431.5" y1="384" x2="431.5" y2="390" stroke="#000" stroke-width="1"/>
<text x="431" y="405" font-size="16" font-weight="normal" font-family="'Liberation Sans', sans-serif" text-anchor="middle" >2947,42</text>
<line x1="540.5" y1="384" x2="540.5" y2="390" stroke="#000" stroke-width="1"/>
<text x="540" y="405" font-size="16" font-weight="normal" font-family="'Liberation Sans', sans-serif" text-anchor="middle" >2947,44</text>
<line x1="600.5" y1="384" x2="600.5" y2="390" stroke="#000" stroke-width="1"/>
<text x="597" y="405" font-size="16" font-weight="normal" font-family="'Liberation Sans', sans-serif" text-anchor="middle" >s</text>
<text x="55.0" y="428" font-size="16" font-weight="normal" font-family="'Liberation Sans', sans-serif" text-anchor="start" textLength="306.3" lengthAdjust="spacingAndGlyphs">Normalized average spectrum, 3912 frames</text>
<text x="4" y="449" font-size="16" font-weight="normal" font-family="'Liberation Sans', sans-serif" text-anchor="start" >dB</text>
<clipPath id="cs"><rect x="53" y="434" width="346" height="150"/></clipPath>
<g clip-path="url(#cs)">
<line x1="73.5" y1="434" x2="73.5" y2="584" stroke="#000" stroke-width="1"/>
<line x1="88.5" y1="434" x2="88.5" y2="584" stroke="#000" stroke-width="1"/>
<line x1="99.5" y1="434" x2="99.5" y2="584" stroke="#000" stroke-width="1"/>
<line x1="108.5" y1="434" x2="108.5" y2="584" stroke="#000" stroke-width="1"/>
<line x1="116.5" y1="434" x2="116.5" y2="584" stroke="#000" stroke-width="1"/>
<line x1="122.5" y1="434" x2="122.5" y2="584" stroke="#000" stroke-width="1"/>
<line x1="128.5" y1="434" x2="128.5" y2="584" stroke="#000" stroke-width="1"/>
<line x1="133.5" y1="434" x2="133.5" y2="584" stroke="#000" stroke-width="1"/>
<line x1="168.5" y1="434" x2="168.5" y2="584" stroke="#000" stroke-width="1"/>
<line x1="188.5" y1="434" x2="188.5" y2="584" stroke="#000" stroke-width="1"/>
<line x1="203.5" y1="434" x2="203.5" y2="584" stroke="#000" stroke-width="1"/>
<line x1="214.5" y1="434" x2="214.5" y2="584" stroke="#000" stroke-width="1"/>
<line x1="223.5" y1="434" x2="223.5" y2="584" stroke="#000" stroke-width="1"/>
<line x1="231.5" y1="434" x2="231.5" y2="584" stroke="#000" stroke-width="1"/>
<line x1="237.5" y1="434" x2="237.5" y2="584" stroke="#000" stroke-width="1"/>
<line x1="243.5" y1="434" x2="243.5" y2="584" stroke="#000" stroke-width="1"/>
<line x1="248.5" y1="434" x2="248.5" y2="584" stroke="#000" stroke-width="1"/>
<line x1="283.5" y1="434" x2="283.5" y2="584" stroke="#000" stroke-width="1"/>
<line x1="303.5" y1="434" x2="303.5" y2="584" stroke="#000" stroke-width="1"/>
<line x1="318.5" y1="434" x2="318.5" y2="584" stroke="#000" stroke-width="1"/>
<line x1="329.5" y1="434" x2="329.5" y2="584" stroke="#000" stroke-width="1"/>
<line x1="338.5" y1="434" x2="338.5" y2="584" stroke="#000" stroke-width="1"/>
<line x1="346.5" y1="434" x2="346.5" y2="584" stroke="#000" stroke-width="1"/>
<line x1="352.5" y1="434" x2="352.5" y2="584" stroke="#000" stroke-width="1"/>
<line x1="358.5" y1="434" x2="358.5" y2="584" stroke="#000" stroke-width="1"/>
<line x1="363.5" y1="434" x2="363.5" y2="584" stroke="#000" stroke-width="1"/>
<line x1="58" y1="453.5" x2="398" y2="453.5" stroke="#000" stroke-width="1" stroke-dasharray="3,3"/>
<line x1="58" y1="471.5" x2="398" y2="471.5" stroke="#000" stroke-width="1" stroke-dasharray="3,3"/>
<line x1="58" y1="490.5" x2="398" y2="490.5" stroke="#000" stroke-width="1" stroke-dasharray="3,3"/>
<line x1="58" y1="509.5" x2="398" y2="509.5" stroke="#000" stroke-width="1" stroke-dasharray="3,3"/>
<line x1="58" y1="527.5" x2="398" y2="527.5" stroke="#000" stroke-width="1" stroke-dasharray="3,3"/>
<line x1="58" y1="546.5" x2="398" y2="546.5" stroke="#000" stroke-width="1" stroke-dasharray="3,3"/>
<line x1="58" y1="564.5" x2="398" y2="564.5" stroke="#000" stroke-width="1" stroke-dasharray="3,3"/>
<line x1="53.5" y1="322.75" x2="398.5" y2="434.5" stroke="#000" stroke-width="1"/>
<line x1="53.5" y1="341.375" x2="398.5" y2="453.125" stroke="#000" stroke-width="1"/>
<line x1="53.5" y1="360.0" x2="398.5" y2="471.75" stroke="#000" stroke-width="1"/>
<line x1="53.5" y1="378.625" x2="398.5" y2="490.375" stroke="#000" stroke-width="1"/>
<line x1="53.5" y1="397.25" x2="398.5" y2="509.0" stroke="#000" stroke-width="1"/>
<line x1="53.5" y1="415.875" x2="398.5" y2="527.625" stroke="#000" stroke-width="1"/>
<line x1="53.5" y1="434.5" x2="398.5" y2="546.25" stroke="#000" stroke-width="1"/>
<line x1="53.5" y1="453.125" x2="398.5" y2="564.875" stroke="#000" stroke-width="1"/>
<line x1="53.5" y1="471.75" x2="398.5" y2="583.5" stroke="#000" stroke-width="1"/>
<line x1="53.5" y1="490.375" x2="398.5" y2="602.125" stroke="#000" stroke-width="1"/>
<line x1="53.5" y1="509.0" x2="398.5" y2="620.75" stroke="#000" stroke-width="1"/>
<line x1="53.5" y1="527.625" x2="398.5" y2="639.375" stroke="#000" stroke-width="1"/>
<line x1="53.5" y1="546.25" x2="398.5" y2="658.0" stroke="#000" stroke-width="1"/>
<line x1="53.5" y1="564.875" x2="398.5" y2="676.625" stroke="#000" stroke-width="1"/>
</g>
<rect x="53.5" y="434.5" width="345" height="149" fill="none" stroke="#000"/>
<line x1="48" y1="471.5" x2="53" y2="471.5" stroke="#000" stroke-width="1"/>
<text x="43" y="477" font-size="16" font-weight="normal" font-family="'Liberation Sans', sans-serif" text-anchor="end" >-30</text>
<line x1="48" y1="490.5" x2="53" y2="490.5" stroke="#000" stroke-width="1"/>
<text x="43" y="496" font-size="16" font-weight="normal" font-family="'Liberation Sans', sans-serif" text-anchor="end" >-40</text>
<line x1="48" y1="509.5" x2="53" y2="509.5" stroke="#000" stroke-width="1"/>
<text x="43" y="515" font-size="16" font-weight="normal" font-family="'Liberation Sans', sans-serif" text-anchor="end" >-50</text>
<line x1="48" y1="527.5" x2="53" y2="527.5" stroke="#000" stroke-width="1"/>
<text x="43" y="533" font-size="16" font-weight="normal" font-family="'Liberation Sans', sans-serif" text-anchor="end" >-60</text>
<line x1="48" y1="546.5" x2="53" y2="546.5" stroke="#000" stroke-width="1"/>
<text x="43" y="552" font-size="16" font-weight="normal" font-family="'Liberation Sans', sans-serif" text-anchor="end" >-70</text>
<line x1="48" y1="564.5" x2="53" y2="564.5" stroke="#000" stroke-width="1"/>
<text x="43" y="570" font-size="16" font-weight="normal" font-family="'Liberation Sans', sans-serif" text-anchor="end" >-80</text>
<line x1="48" y1="453.5" x2="53" y2="453.5" stroke="#000" stroke-width="1"/>
<line x1="48" y1="434.5" x2="53" y2="434.5" stroke="#000" stroke-width="1"/>
<line x1="48" y1="583.5" x2="53" y2="583.5" stroke="#000" stroke-width="1"/>
<line x1="73.5" y1="583" x2="73.5" y2="589" stroke="#000" stroke-width="1"/>
<line x1="88.5" y1="583" x2="88.5" y2="589" stroke="#000" stroke-width="1"/>
<line x1="99.5" y1="583" x2="99.5" y2="589" stroke="#000" stroke-width="1"/>
<line x1="108.5" y1="583" x2="108.5" y2="589" stroke="#000" stroke-width="1"/>
<line x1="116.5" y1="583" x2="116.5" y2="589" stroke="#000" stroke-width="1"/>
<line x1="122.5" y1="583" x2="122.5" y2="589" stroke="#000" stroke-width="1"/>
<line x1="128.5" y1="583" x2="128.5" y2="589" stroke="#000" stroke-width="1"/>
<line x1="133.5" y1="583" x2="133.5" y2="589" stroke="#000" stroke-width="1"/>
<line x1="168.5" y1="583" x2="168.5" y2="589" stroke="#000" stroke-width="1"/>
<line x1="188.5" y1="583" x2="188.5" y2="589" stroke="#000" stroke-width="1"/>
<line x1="203.5" y1="583" x2="203.5" y2="589" stroke="#000" stroke-width="1"/>
<line x1="214.5" y1="583" x2="214.5" y2="589" stroke="#000" stroke-width="1"/>
<line x1="223.5" y1="583" x2="223.5" y2="589" stroke="#000" stroke-width="1"/>
<line x1="231.5" y1="583" x2="231.5" y2="589" stroke="#000" stroke-width="1"/>
<line x1="237.5" y1="583" x2="237.5" y2="589" stroke="#000" stroke-width="1"/>
<line x1="243.5" y1="583" x2="243.5" y2="589" stroke="#000" stroke-width="1"/>
<line x1="248.5" y1="583" x2="248.5" y2="589" stroke="#000" stroke-width="1"/>
<line x1="283.5" y1="583" x2="283.5" y2="589" stroke="#000" stroke-width="1"/>
<line x1="303.5" y1="583" x2="303.5" y2="589" stroke="#000" stroke-width="1"/>
<line x1="318.5" y1="583" x2="318.5" y2="589" stroke="#000" stroke-width="1"/>
<line x1="329.5" y1="583" x2="329.5" y2="589" stroke="#000" stroke-width="1"/>
<line x1="338.5" y1="583" x2="338.5" y2="589" stroke="#000" stroke-width="1"/>
<line x1="346.5" y1="583" x2="346.5" y2="589" stroke="#000" stroke-width="1"/>
<line x1="352.5" y1="583" x2="352.5" y2="589" stroke="#000" stroke-width="1"/>
<line x1="358.5" y1="583" x2="358.5" y2="589" stroke="#000" stroke-width="1"/>
<line x1="363.5" y1="583" x2="363.5" y2="589" stroke="#000" stroke-width="1"/>
<line x1="398.5" y1="583" x2="398.5" y2="589" stroke="#000" stroke-width="1"/>
<text x="99.5" y="604" font-size="16" font-weight="normal" font-family="'Liberation Sans', sans-serif" text-anchor="middle" >0,05</text>
<text x="133.5" y="604" font-size="16" font-weight="normal" font-family="'Liberation Sans', sans-serif" text-anchor="middle" >0,1</text>
<text x="168.5" y="604" font-size="16" font-weight="normal" font-family="'Liberation Sans', sans-serif" text-anchor="middle" >0,2</text>
<text x="214.5" y="604" font-size="16" font-weight="normal" font-family="'Liberation Sans', sans-serif" text-anchor="middle" >0,5</text>
<text x="248.5" y="604" font-size="16" font-weight="normal" font-family="'Liberation Sans', sans-serif" text-anchor="middle" >1</text>
<text x="283.5" y="604" font-size="16" font-weight="normal" font-family="'Liberation Sans', sans-serif" text-anchor="middle" >2</text>
<text x="303.5" y="604" font-size="16" font-weight="normal" font-family="'Liberation Sans', sans-serif" text-anchor="middle" >3</text>
<text x="318.5" y="604" font-size="16" font-weight="normal" font-family="'Liberation Sans', sans-serif" text-anchor="middle" >4</text>
<text x="329.5" y="604" font-size="16" font-weight="normal" font-family="'Liberation Sans', sans-serif" text-anchor="middle" >5</text>
<text x="346.5" y="604" font-size="16" font-weight="normal" font-family="'Liberation Sans', sans-serif" text-anchor="middle" >7</text>
<text x="385" y="604" font-size="16" font-weight="normal" font-family="'Liberation Sans', sans-serif" text-anchor="middle" >kHz</text>
<g clip-path="url(#cs)">
<polyline fill="none" stroke="#0000ff" points="54.5,549.0 55.5,548.8 56.5,546.7 57.5,545.9 58.5,545.1 59.5,543.4 60.5,542.6 61.5,539.2 62.5,537.8 63.5,536.0 64.5,534.7 65.5,533.4 66.5,531.3 67.5,528.6 68.5,526.6 69.5,525.0 70.5,522.1 71.5,519.0 72.5,515.4 73.5,511.6 74.5,507.0 75.5,501.3 76.5,497.0 77.5,494.2 78.5,490.8 79.5,488.8 80.5,488.6 81.5,489.1 82.5,487.4 83.5,484.7 84.5,484.1 85.5,483.7 86.5,483.4 87.5,483.9 88.5,480.3 89.5,480.6 90.5,477.3 91.5,478.4 92.5,477.8 93.5,479.2 94.5,475.4 95.5,477.6 96.5,476.8 97.5,476.7 98.5,473.0 99.5,475.1 100.5,475.6 101.5,475.6 102.5,476.5 103.5,475.6 104.5,475.6 105.5,475.5 106.5,473.5 107.5,473.1 108.5,472.3 109.5,474.3 110.5,475.3 111.5,473.5 112.5,474.3 113.5,474.6 114.5,474.9 115.5,477.1 116.5,478.0 117.5,479.7 118.5,479.7 119.5,478.0 120.5,478.0 121.5,478.7 122.5,480.7 123.5,481.0 124.5,480.9 125.5,482.0 126.5,483.6 127.5,483.9 128.5,484.2 129.5,482.7 130.5,481.8 131.5,480.0 132.5,480.0 133.5,480.0 134.5,479.3 135.5,477.1 136.5,478.5 137.5,479.0 138.5,478.9 139.5,477.3 140.5,477.9 141.5,478.3 142.5,477.2 143.5,477.9 144.5,478.1 145.5,474.4 146.5,472.5 147.5,471.1 148.5,470.8 149.5,474.0 150.0,473.9 150.8,474.2 151.5,475.0 152.2,476.3 153.0,478.5 153.8,478.9 154.5,477.0 155.2,477.9 156.0,478.7 156.8,482.1 157.5,480.9 158.2,482.4 159.0,483.7 159.8,486.1 160.5,482.6 161.2,485.7 162.0,484.2 162.8,482.8 163.5,484.0 164.2,483.1 165.0,480.7 165.8,479.9 166.5,479.1 167.2,477.1 168.0,474.5 168.8,474.4 169.5,478.9 170.2,481.1 171.0,480.8 171.8,480.3 172.5,478.4 173.2,479.7 174.0,483.9 174.8,487.9 175.5,476.1 176.2,483.1 177.0,490.1 177.8,481.2 178.5,480.1 179.2,479.5 180.0,478.1 180.8,487.3 181.5,478.5 182.2,480.6 183.0,493.8 183.8,491.8 184.5,491.5 185.2,498.7 186.0,483.0 186.8,498.7 187.5,484.6 188.2,486.8 189.0,491.3 189.8,495.6 190.5,497.9 191.2,481.3 192.0,496.0 192.8,488.3 193.5,498.0 194.2,489.4 195.0,487.7 195.8,494.3 196.5,487.2 197.2,501.0 198.0,491.0 198.8,492.8 199.5,498.6 200.2,488.4 201.0,497.0 201.8,497.6 202.5,487.3 203.2,485.4 204.0,494.2 204.8,494.1 205.5,493.3 206.2,503.6 207.0,485.6 207.8,493.2 208.5,491.3 209.2,493.6 210.0,489.2 210.8,493.3 211.5,492.8 212.2,494.3 213.0,484.8 213.8,491.5 214.5,485.4 215.2,492.2 216.0,498.3 216.8,498.2 217.5,505.3 218.2,494.7 219.0,493.8 219.8,493.5 220.5,494.7 221.2,492.8 222.0,499.8 222.8,497.9 223.5,495.5 224.2,500.3 225.0,492.7 225.8,485.7 226.5,490.0 227.2,491.0 228.0,494.1 228.8,479.6 229.5,485.0 230.2,480.7 231.0,487.2 231.8,492.5 232.5,494.6 233.2,500.5 234.0,494.0 234.8,485.1 235.5,501.3 236.2,499.5 237.0,489.6 237.8,502.9 238.5,490.7 239.2,481.0 240.0,501.9 240.8,503.9 241.5,495.2 242.2,485.7 243.0,489.6 243.8,506.8 244.5,505.5 245.2,504.2 246.0,499.9 246.8,493.5 247.5,500.2 248.2,489.9 249.0,492.4 249.8,494.6 250.5,483.4 251.2,502.0 252.0,494.5 252.8,502.4 253.5,497.6 254.2,503.8 255.0,496.7 255.8,508.8 256.5,495.2 257.2,498.1 258.0,495.5 258.8,505.5 259.5,493.5 260.2,507.8 261.0,494.4 261.8,493.6 262.5,497.2 263.2,493.3 264.0,496.4 264.8,508.6 265.5,501.4 266.2,495.1 267.0,505.9 267.8,499.5 268.5,504.8 269.2,507.5 270.0,505.9 270.8,499.0 271.5,492.7 272.2,503.4 273.0,505.8 273.8,506.9 274.5,500.5 275.2,503.2 276.0,505.5 276.8,499.4 277.5,500.7 278.2,503.6 279.0,504.5 279.8,508.0 280.5,502.7 281.2,508.6 282.0,504.3 282.8,503.6 283.5,498.3 284.2,502.3 285.0,503.7 285.8,501.1 286.5,496.7 287.2,496.1 288.0,502.3 288.8,501.3 289.5,495.5 290.2,495.9 291.0,493.4 291.8,494.8 292.5,499.9 293.2,497.6 294.0,499.6 294.8,496.2 295.5,499.8 296.2,496.1 297.0,498.2 297.8,505.3 298.5,504.4 299.2,504.6 300.0,503.4 300.8,503.6 301.5,506.4 302.2,505.7 303.0,508.7 303.8,510.1 304.5,505.6 305.2,505.1 306.0,503.5 306.8,504.7 307.5,505.5 308.2,507.0 309.0,508.3 309.8,508.9 310.5,509.7 311.2,511.1 312.0,509.3 312.8,511.5 313.5,510.0 314.2,509.7 315.0,508.6 315.8,511.1 316.5,510.9 317.2,512.5 318.0,512.7 318.8,512.6 319.5,511.4 320.2,511.0 321.0,513.6 321.8,516.2 322.5,515.7 323.2,517.4 324.0,519.5 324.8,519.7 325.5,521.2 326.2,520.4 327.0,522.4 327.8,522.1 328.5,522.9 329.2,523.7 330.0,522.8 330.8,523.1 331.5,523.8 332.2,523.2 333.0,521.5 333.8,521.8 334.5,523.0 335.2,523.5 336.0,525.5 336.8,525.0 337.5,527.2 338.2,525.4 339.0,526.0 339.8,527.1 340.5,526.5 341.2,526.6 342.0,525.4 342.8,525.5 343.5,523.5 344.2,525.5 345.0,525.0 345.8,526.2 346.5,525.9 347.2,527.0 348.0,528.1 348.8,527.2 349.5,528.5 350.2,529.4 351.0,528.2 351.8,527.3 352.5,527.0 353.2,525.9 354.0,526.5 354.8,525.3 355.5,524.3 356.2,524.6 357.0,526.1 357.8,528.6 358.5,529.9 359.2,531.0 360.0,530.1 360.8,530.9 361.5,529.8 362.2,531.7 363.0,530.6 363.8,531.9 364.5,532.6 365.2,531.4 366.0,533.1 366.8,533.6 367.5,534.2 368.2,533.8 369.0,533.5 369.8,534.7 370.5,533.7 371.2,535.1 372.0,535.0 372.8,536.0 373.5,537.6 374.2,538.8 375.0,539.8 375.8,539.9 376.5,539.0 377.2,540.1 378.0,540.7 378.8,541.9 379.5,541.1 380.2,543.9 381.0,545.0 381.8,545.0 382.5,545.8 383.2,546.4 384.0,547.4 384.8,550.0 385.5,553.3 386.2,553.3 387.0,555.3 387.8,557.8 388.5,557.9 389.2,559.9 390.0,562.4 390.8,564.2 391.5,564.6 392.2,566.5 393.0,568.2 393.8,569.1 394.5,571.7 395.2,571.7 396.0,574.6 396.8,575.2 397.5,578.2 398.2,579.2"/>
<polyline fill="none" stroke="#ff0000" points="54.5,549.6 55.5,549.1 56.5,547.0 57.5,546.5 58.5,544.7 59.5,543.5 60.5,542.0 61.5,540.0 62.5,537.9 63.5,536.0 64.5,534.1 65.5,533.0 66.5,530.8 67.5,528.5 68.5,527.3 69.5,524.6 70.5,521.8 71.5,518.4 72.5,515.4 73.5,512.0 74.5,507.1 75.5,501.7 76.5,497.4 77.5,493.9 78.5,490.5 79.5,489.1 80.5,488.1 81.5,488.9 82.5,488.0 83.5,484.9 84.5,483.7 85.5,483.5 86.5,484.1 87.5,483.6 88.5,480.6 89.5,480.7 90.5,477.6 91.5,478.3 92.5,478.3 93.5,478.9 94.5,476.5 95.5,477.7 96.5,477.4 97.5,477.0 98.5,473.9 99.5,474.7 100.5,476.3 101.5,474.7 102.5,476.0 103.5,475.3 104.5,475.6 105.5,474.4 106.5,472.8 107.5,472.6 108.5,472.6 109.5,473.5 110.5,476.0 111.5,474.7 112.5,474.7 113.5,474.1 114.5,475.3 115.5,476.8 116.5,478.1 117.5,479.1 118.5,479.5 119.5,477.7 120.5,478.8 121.5,478.6 122.5,480.7 123.5,482.2 124.5,480.9 125.5,482.2 126.5,483.6 127.5,482.9 128.5,483.8 129.5,481.9 130.5,482.0 131.5,480.5 132.5,479.7 133.5,479.7 134.5,479.1 135.5,477.2 136.5,479.6 137.5,478.6 138.5,477.7 139.5,477.8 140.5,477.5 141.5,478.1 142.5,477.0 143.5,476.7 144.5,478.5 145.5,474.0 146.5,472.7 147.5,471.4 148.5,471.3 149.5,473.1 150.0,475.1 150.8,473.9 151.5,476.2 152.2,476.5 153.0,478.9 153.8,479.1 154.5,477.5 155.2,478.3 156.0,479.8 156.8,481.5 157.5,480.3 158.2,480.9 159.0,484.7 159.8,485.7 160.5,483.2 161.2,487.1 162.0,484.1 162.8,482.7 163.5,483.9 164.2,482.9 165.0,482.6 165.8,481.3 166.5,478.3 167.2,476.4 168.0,474.5 168.8,475.3 169.5,478.5 170.2,483.2 171.0,479.9 171.8,478.1 172.5,481.3 173.2,482.3 174.0,484.8 174.8,490.4 175.5,477.4 176.2,482.6 177.0,489.1 177.8,480.1 178.5,477.1 179.2,480.4 180.0,478.0 180.8,490.6 181.5,480.0 182.2,480.6 183.0,491.8 183.8,492.3 184.5,488.7 185.2,495.6 186.0,478.9 186.8,497.3 187.5,489.9 188.2,485.3 189.0,496.4 189.8,493.8 190.5,500.6 191.2,483.1 192.0,492.7 192.8,490.6 193.5,494.4 194.2,486.1 195.0,481.9 195.8,492.5 196.5,488.9 197.2,499.9 198.0,491.0 198.8,490.3 199.5,494.9 200.2,492.7 201.0,502.0 201.8,498.5 202.5,492.4 203.2,486.4 204.0,494.9 204.8,498.1 205.5,498.4 206.2,503.7 207.0,486.9 207.8,491.5 208.5,491.6 209.2,489.3 210.0,490.4 210.8,493.0 211.5,494.6 212.2,488.5 213.0,485.6 213.8,489.4 214.5,485.8 215.2,489.9 216.0,498.2 216.8,496.4 217.5,505.5 218.2,495.5 219.0,495.2 219.8,497.4 220.5,499.4 221.2,496.8 222.0,496.1 222.8,496.5 223.5,490.6 224.2,500.7 225.0,496.6 225.8,489.5 226.5,487.9 227.2,483.7 228.0,490.4 228.8,482.2 229.5,485.9 230.2,483.3 231.0,488.6 231.8,490.3 232.5,496.3 233.2,500.9 234.0,497.2 234.8,485.5 235.5,504.0 236.2,499.9 237.0,494.0 237.8,497.7 238.5,494.3 239.2,485.6 240.0,497.8 240.8,506.7 241.5,501.3 242.2,486.8 243.0,485.5 243.8,505.7 244.5,505.3 245.2,501.5 246.0,501.9 246.8,487.2 247.5,503.4 248.2,488.9 249.0,488.2 249.8,494.4 250.5,485.2 251.2,504.8 252.0,489.4 252.8,502.6 253.5,499.3 254.2,503.6 255.0,500.1 255.8,507.9 256.5,495.9 257.2,498.6 258.0,495.6 258.8,503.9 259.5,495.5 260.2,505.2 261.0,492.1 261.8,495.2 262.5,499.1 263.2,493.9 264.0,495.6 264.8,506.6 265.5,498.8 266.2,496.4 267.0,506.7 267.8,502.4 268.5,503.4 269.2,507.4 270.0,504.7 270.8,498.2 271.5,494.7 272.2,502.6 273.0,504.8 273.8,506.2 274.5,498.1 275.2,504.0 276.0,508.0 276.8,499.5 277.5,500.0 278.2,501.8 279.0,503.8 279.8,509.1 280.5,504.2 281.2,508.1 282.0,505.3 282.8,503.2 283.5,501.2 284.2,501.7 285.0,506.2 285.8,498.4 286.5,497.5 287.2,497.7 288.0,501.9 288.8,498.2 289.5,496.0 290.2,496.6 291.0,493.8 291.8,496.7 292.5,500.5 293.2,498.1 294.0,498.7 294.8,496.1 295.5,498.7 296.2,497.8 297.0,498.3 297.8,504.8 298.5,504.4 299.2,505.7 300.0,502.3 300.8,504.5 301.5,507.6 302.2,506.4 303.0,508.5 303.8,509.3 304.5,504.9 305.2,505.0 306.0,503.8 306.8,504.1 307.5,505.6 308.2,507.1 309.0,507.9 309.8,508.1 310.5,509.8 311.2,510.7 312.0,509.6 312.8,511.1 313.5,510.2 314.2,508.9 315.0,508.9 315.8,510.8 316.5,511.2 317.2,512.7 318.0,512.1 318.8,512.5 319.5,510.9 320.2,511.2 321.0,513.8 321.8,515.3 322.5,516.4 323.2,516.9 324.0,519.2 324.8,519.2 325.5,520.5 326.2,521.2 327.0,521.8 327.8,522.6 328.5,523.2 329.2,523.1 330.0,523.6 330.8,523.4 331.5,523.5 332.2,523.6 333.0,521.7 333.8,522.5 334.5,523.4 335.2,523.1 336.0,524.8 336.8,525.4 337.5,526.4 338.2,525.7 339.0,526.6 339.8,527.0 340.5,526.4 341.2,525.8 342.0,525.1 342.8,524.7 343.5,523.5 344.2,525.1 345.0,524.8 345.8,526.2 346.5,526.0 347.2,526.9 348.0,528.0 348.8,527.9 349.5,528.6 350.2,528.6 351.0,528.9 351.8,527.5 352.5,527.5 353.2,526.6 354.0,525.7 354.8,524.8 355.5,524.4 356.2,523.6 357.0,525.3 357.8,528.4 358.5,529.9 359.2,530.1 360.0,529.3 360.8,530.2 361.5,529.8 362.2,530.8 363.0,530.0 363.8,531.6 364.5,531.9 365.2,532.2 366.0,533.0 366.8,533.5 367.5,533.9 368.2,533.5 369.0,533.9 369.8,534.6 370.5,534.0 371.2,535.7 372.0,535.8 372.8,536.3 373.5,537.3 374.2,538.6 375.0,539.1 375.8,539.5 376.5,539.3 377.2,541.1 378.0,540.6 378.8,542.0 379.5,542.0 380.2,543.3 381.0,544.6 381.8,544.2 382.5,545.6 383.2,546.6 384.0,547.9 384.8,549.9 385.5,552.4 386.2,552.8 387.0,554.2 387.8,557.3 388.5,558.3 389.2,560.0 390.0,562.1 390.8,564.0 391.5,564.5 392.2,565.9 393.0,567.8 393.8,570.0 394.5,571.7 395.2,572.1 396.0,574.6 396.8,575.8 397.5,578.2 398.2,578.8"/>
</g>
<text x="451.5" y="428" font-size="16" font-weight="normal" font-family="'Liberation Sans', sans-serif" text-anchor="start" textLength="151.8" lengthAdjust="spacingAndGlyphs">Allpassed crest factor</text>
<text x="402" y="449" font-size="16" font-weight="normal" font-family="'Liberation Sans', sans-serif" text-anchor="start" >dB</text>
<polyline fill="none" stroke="#0000ff" points="451.5,514.2 462.3,509.2 474.2,503.5 484.6,500.8 492.0,498.5 499.4,496.8 506.8,496.8 518.7,499.0 528.0,499.2 540.5,501.3 553.0,503.5 575.4,511.7 600.0,516.9"/>
<polyline fill="none" stroke="#ff0000" points="451.5,513.5 462.3,508.5 474.2,502.5 484.6,499.5 492.0,497.6 499.4,495.8 525.7,495.8 538.3,500.5 560.6,508.7 575.4,513.9 600.0,521.8"/>
<line x1="454" y1="525.5" x2="600" y2="525.5" stroke="#0000ff" stroke-width="1" stroke-dasharray="3,3"/>
<line x1="454" y1="526.5" x2="600" y2="526.5" stroke="#ff0000" stroke-width="1" stroke-dasharray="3,3"/>
<rect x="451.5" y="434.5" width="149" height="149" fill="none" stroke="#000"/>
<rect x="600" y="525" width="1" height="2" fill="#fff"/>
<line x1="446" y1="459.5" x2="451" y2="459.5" stroke="#000" stroke-width="1"/>
<line x1="446" y1="484.5" x2="451" y2="484.5" stroke="#000" stroke-width="1"/>
<text x="441" y="490" font-size="16" font-weight="normal" font-family="'Liberation Sans', sans-serif" text-anchor="end" >20</text>
<line x1="446" y1="509.5" x2="451" y2="509.5" stroke="#000" stroke-width="1"/>
<text x="441" y="515" font-size="16" font-weight="normal" font-family="'Liberation Sans', sans-serif" text-anchor="end" >15</text>
<line x1="446" y1="533.5" x2="451" y2="533.5" stroke="#000" stroke-width="1"/>
<text x="441" y="539" font-size="16" font-weight="normal" font-family="'Liberation Sans', sans-serif" text-anchor="end" >10</text>
<line x1="446" y1="558.5" x2="451" y2="558.5" stroke="#000" stroke-width="1"/>
<text x="441" y="564" font-size="16" font-weight="normal" font-family="'Liberation Sans', sans-serif" text-anchor="end" >5</text>
<line x1="446" y1="434.5" x2="451" y2="434.5" stroke="#000" stroke-width="1"/>
<line x1="446" y1="583.5" x2="451" y2="583.5" stroke="#000" stroke-width="1"/>
<line x1="460.5" y1="583" x2="460.5" y2="589" stroke="#000" stroke-width="1"/>
<line x1="466.5" y1="583" x2="466.5" y2="589" stroke="#000" stroke-width="1"/>
<line x1="471.5" y1="583" x2="471.5" y2="589" stroke="#000" stroke-width="1"/>
<line x1="475.5" y1="583" x2="475.5" y2="589" stroke="#000" stroke-width="1"/>
<line x1="478.5" y1="583" x2="478.5" y2="589" stroke="#000" stroke-width="1"/>
<line x1="481.5" y1="583" x2="481.5" y2="589" stroke="#000" stroke-width="1"/>
<line x1="483.5" y1="583" x2="483.5" y2="589" stroke="#000" stroke-width="1"/>
<line x1="486.5" y1="583" x2="486.5" y2="589" stroke="#000" stroke-width="1"/>
<line x1="501.5" y1="583" x2="501.5" y2="589" stroke="#000" stroke-width="1"/>
<line x1="509.5" y1="583" x2="509.5" y2="589" stroke="#000" stroke-width="1"/>
<line x1="516.5" y1="583" x2="516.5" y2="589" stroke="#000" stroke-width="1"/>
<line x1="520.5" y1="583" x2="520.5" y2="589" stroke="#000" stroke-width="1"/>
<line x1="524.5" y1="583" x2="524.5" y2="589" stroke="#000" stroke-width="1"/>
<line x1="528.5" y1="583" x2="528.5" y2="589" stroke="#000" stroke-width="1"/>
<line x1="531.5" y1="583" x2="531.5" y2="589" stroke="#000" stroke-width="1"/>
<line x1="533.5" y1="583" x2="533.5" y2="589" stroke="#000" stroke-width="1"/>
<line x1="535.5" y1="583" x2="535.5" y2="589" stroke="#000" stroke-width="1"/>
<line x1="550.5" y1="583" x2="550.5" y2="589" stroke="#000" stroke-width="1"/>
<line x1="559.5" y1="583" x2="559.5" y2="589" stroke="#000" stroke-width="1"/>
<line x1="565.5" y1="583" x2="565.5" y2="589" stroke="#000" stroke-width="1"/>
<line x1="570.5" y1="583" x2="570.5" y2="589" stroke="#000" stroke-width="1"/>
<line x1="574.5" y1="583" x2="574.5" y2="589" stroke="#000" stroke-width="1"/>
<line x1="577.5" y1="583" x2="577.5" y2="589" stroke="#000" stroke-width="1"/>
<line x1="580.5" y1="583" x2="580.5" y2="589" stroke="#000" stroke-width="1"/>
<line x1="583.5" y1="583" x2="583.5" y2="589" stroke="#000" stroke-width="1"/>
<line x1="585.5" y1="583" x2="585.5" y2="589" stroke="#000" stroke-width="1"/>
<line x1="600.5" y1="583" x2="600.5" y2="589" stroke="#000" stroke-width="1"/>
<text x="486" y="604" font-size="16" font-weight="normal" font-family="'Liberation Sans', sans-serif" text-anchor="middle" >0,1</text>
<text x="535" y="604" font-size="16" font-weight="normal" font-family="'Liberation Sans', sans-serif" text-anchor="middle" >1</text>
<text x="551" y="604" font-size="16" font-weight="normal" font-family="'Liberation Sans', sans-serif" text-anchor="middle" >2</text>
<text x="587" y="604" font-size="16" font-weight="normal" font-family="'Liberation Sans', sans-serif" text-anchor="middle" >kHz</text>
<text x="55.0" y="627" font-size="16" font-weight="normal" font-family="'Liberation Sans', sans-serif" text-anchor="start" textLength="191.6" lengthAdjust="spacingAndGlyphs">Histogram, "bits": 16,0/16,0</text>
<text x="4" y="649" font-size="16" font-weight="normal" font-family="'Liberation Sans', sans-serif" text-anchor="start" >n</text>
<rect x="53.5" y="633.5" width="345" height="149" fill="none" stroke="#000"/>
<polyline fill="none" stroke="#0000ff" points="54.5,782.5 71.5,782.5 71.5,690.0 72.5,690.0 72.5,713.1 73.0,714.4 73.5,715.5 74.0,716.5 74.5,717.9 75.0,718.5 75.5,719.2 76.0,719.0 76.5,718.5 77.0,718.0 77.5,718.8 78.0,718.3 78.5,718.5 79.0,717.8 79.5,717.6 80.0,717.9 80.5,718.0 81.0,717.0 81.5,717.8 82.0,717.7 82.5,717.2 83.0,717.2 83.5,716.2 84.0,715.9 84.5,716.0 85.0,715.5 85.5,715.7 86.0,716.0 86.5,715.2 87.0,715.8 87.5,715.1 88.0,714.5 88.5,715.0 89.0,714.6 89.5,714.2 90.0,714.3 90.5,714.8 91.0,714.3 91.5,713.5 92.0,714.2 92.5,713.0 93.0,713.2 93.5,712.9 94.0,713.6 94.5,712.1 95.0,712.7 95.5,712.2 96.0,711.5 96.5,711.8 97.0,711.8 97.5,711.4 98.0,710.3 98.5,710.9 99.0,710.1 99.5,710.4 100.0,709.8 100.5,708.9 101.0,709.4 101.5,708.9 102.0,708.5 102.5,708.5 103.0,707.9 103.5,707.2 104.0,708.0 104.5,706.9 105.0,706.6 105.5,706.1 106.0,706.6 106.5,706.5 107.0,705.7 107.5,705.9 108.0,705.0 108.5,704.8 109.0,704.4 109.5,704.1 110.0,704.1 110.5,703.5 111.0,702.9 111.5,703.4 112.0,702.6 112.5,702.4 113.0,701.9 113.5,701.4 114.0,701.8 114.5,701.2 115.0,701.5 115.5,700.2 116.0,700.8 116.5,699.6 117.0,699.5 117.5,699.0 118.0,699.2 118.5,698.7 119.0,698.4 119.5,698.8 120.0,698.1 120.5,698.1 121.0,697.8 121.5,696.9 122.0,696.9 122.5,696.2 123.0,696.0 123.5,696.1 124.0,695.6 124.5,694.9 125.0,694.6 125.5,695.0 126.0,694.6 126.5,694.3 127.0,693.6 127.5,693.9 128.0,693.4 128.5,692.7 129.0,692.5 129.5,692.6 130.0,692.7 130.5,692.1 131.0,691.5 131.5,691.6 132.0,690.9 132.5,691.0 133.0,690.5 133.5,689.9 134.0,690.1 134.5,689.8 135.0,689.9 135.5,689.4 136.0,688.8 136.5,688.8 137.0,688.2 137.5,688.3 138.0,687.9 138.5,687.7 139.0,687.0 139.5,687.2 140.0,686.8 140.5,686.7 141.0,685.9 141.5,686.2 142.0,686.1 142.5,685.6 143.0,685.0 143.5,685.3 144.0,684.8 144.5,684.3 145.0,684.3 145.5,684.3 146.0,683.4 146.5,683.5 147.0,683.3 147.5,683.3 148.0,682.4 148.5,682.5 149.0,682.4 149.5,682.1 150.0,682.0 150.5,681.6 151.0,681.3 151.5,681.0 152.0,680.5 152.5,680.7 153.0,680.2 153.5,679.6 154.0,679.9 154.5,679.6 155.0,679.3 155.5,678.7 156.0,678.9 156.5,678.4 157.0,678.5 157.5,677.9 158.0,677.7 158.5,677.4 159.0,677.1 159.5,677.0 160.0,677.0 160.5,676.6 161.0,676.3 161.5,676.5 162.0,676.1 162.5,676.0 163.0,675.4 163.5,675.2 164.0,675.3 164.5,674.6 165.0,674.8 165.5,674.6 166.0,674.3 166.5,674.0 167.0,673.6 167.5,673.4 168.0,673.0 168.5,673.0 169.0,672.8 169.5,672.5 170.0,672.6 170.5,672.4 171.0,671.9 171.5,671.8 172.0,671.7 172.5,671.4 173.0,671.1 173.5,671.0 174.0,670.7 174.5,670.5 175.0,670.4 175.5,670.0 176.0,669.9 176.5,669.6 177.0,669.5 177.5,669.2 178.0,669.1 178.5,668.8 179.0,668.7 179.5,668.3 180.0,668.2 180.5,668.0 181.0,667.8 181.5,667.5 182.0,667.3 182.5,667.1 183.0,666.9 183.5,666.7 184.0,666.5 184.5,666.3 185.0,666.1 185.5,665.9 186.0,665.8 186.5,665.6 187.0,665.4 187.5,665.2 188.0,665.0 188.5,664.8 189.0,664.7 189.5,664.5 190.0,664.3 190.5,664.1 191.0,663.9 191.5,663.8 192.0,663.6 192.5,663.4 193.0,663.2 193.5,663.0 194.0,662.8 194.5,662.7 195.0,662.5 195.5,662.3 196.0,662.1 196.5,661.9 197.0,661.7 197.5,661.6 198.0,661.4 198.5,661.2 199.0,661.1 199.5,660.9 200.0,660.8 200.5,660.7 201.0,660.6 201.5,660.4 202.0,660.3 202.5,660.2 203.0,660.1 203.5,659.9 204.0,659.8 204.5,659.7 205.0,659.5 205.5,659.4 206.0,659.3 206.5,659.2 207.0,659.0 207.5,658.9 208.0,658.8 208.5,658.6 209.0,658.5 209.5,658.4 210.0,658.3 210.5,658.1 211.0,658.0 211.5,657.9 212.0,657.8 212.5,657.6 213.0,657.5 213.5,657.4 214.0,657.2 214.5,657.0 215.0,656.8 215.5,656.6 216.0,656.5 216.5,656.3 217.0,656.1 217.5,655.9 218.0,655.7 218.5,655.5 219.0,655.4 219.5,655.2 220.0,655.0 220.5,654.8 221.0,654.6 221.5,654.3 222.0,654.0 222.5,653.7 223.0,653.4 223.5,653.1 224.0,652.9 224.5,652.6 225.0,652.4 225.5,652.1 225.5,651.5 225.5,648.5 226.5,648.5 226.5,633.5 227.5,633.5 227.5,648.5 228.5,648.5 228.5,651.5 228.5,652.1 229.0,652.5 229.5,652.9 230.0,653.4 230.5,654.0 231.0,654.5 231.5,655.1 232.0,655.6 232.5,655.8 233.0,655.9 233.5,656.1 234.0,656.3 234.5,656.5 235.0,656.6 235.5,656.8 236.0,657.0 236.5,657.2 237.0,657.3 237.5,657.5 238.0,657.7 238.5,657.8 239.0,658.0 239.5,658.2 240.0,658.4 240.5,658.6 241.0,658.7 241.5,658.9 242.0,659.1 242.5,659.3 243.0,659.4 243.5,659.6 244.0,659.8 244.5,660.0 245.0,660.1 245.5,660.3 246.0,660.5 246.5,660.7 247.0,660.8 247.5,661.0 248.0,661.2 248.5,661.4 249.0,661.6 249.5,661.7 250.0,661.9 250.5,662.1 251.0,662.2 251.5,662.4 252.0,662.5 252.5,662.7 253.0,662.9 253.5,663.0 254.0,663.2 254.5,663.4 255.0,663.5 255.5,663.7 256.0,663.8 256.5,664.0 257.0,664.2 257.5,664.3 258.0,664.5 258.5,664.7 259.0,664.8 259.5,665.0 260.0,665.1 260.5,665.3 261.0,665.5 261.5,665.6 262.0,665.8 262.5,666.0 263.0,666.1 263.5,666.3 264.0,666.4 264.5,666.6 265.0,666.8 265.5,666.9 266.0,667.1 266.5,667.3 267.0,667.4 267.5,667.6 268.0,667.8 268.5,667.9 269.0,668.1 269.5,668.3 270.0,668.4 270.5,668.6 271.0,668.8 271.5,668.9 272.0,669.2 272.5,669.3 273.0,669.6 273.5,669.8 274.0,669.9 274.5,670.1 275.0,670.3 275.5,670.6 276.0,670.8 276.5,670.9 277.0,671.1 277.5,671.2 278.0,671.4 278.5,671.5 279.0,671.9 279.5,671.9 280.0,672.2 280.5,672.4 281.0,672.4 281.5,672.7 282.0,673.0 282.5,673.3 283.0,673.4 283.5,673.5 284.0,673.9 284.5,674.1 285.0,674.4 285.5,674.5 286.0,674.4 286.5,675.1 287.0,674.9 287.5,675.2 288.0,675.7 288.5,675.8 289.0,676.0 289.5,676.1 290.0,676.3 290.5,676.4 291.0,676.9 291.5,676.9 292.0,676.9 292.5,677.2 293.0,677.4 293.5,678.0 294.0,677.8 294.5,678.0 295.0,678.5 295.5,678.5 296.0,679.1 296.5,679.2 297.0,679.4 297.5,679.5 298.0,679.7 298.5,680.0 299.0,680.4 299.5,680.2 300.0,680.5 300.5,681.0 301.0,681.3 301.5,681.4 302.0,681.4 302.5,681.6 303.0,682.1 303.5,682.1 304.0,682.7 304.5,682.9 305.0,683.1 305.5,683.3 306.0,683.7 306.5,683.7 307.0,683.7 307.5,683.9 308.0,684.0 308.5,684.6 309.0,684.9 309.5,685.1 310.0,685.0 310.5,685.7 311.0,686.0 311.5,685.9 312.0,686.3 312.5,686.2 313.0,686.9 313.5,686.6 314.0,687.2 314.5,687.8 315.0,687.9 315.5,688.0 316.0,688.7 316.5,688.7 317.0,689.2 317.5,689.1 318.0,689.5 318.5,689.7 319.0,689.5 319.5,689.8 320.0,690.0 320.5,690.4 321.0,691.3 321.5,691.3 322.0,691.6 322.5,692.1 323.0,691.6 323.5,692.4 324.0,692.5 324.5,692.6 325.0,693.2 325.5,693.6 326.0,693.7 326.5,694.0 327.0,694.5 327.5,694.3 328.0,695.1 328.5,695.0 329.0,695.7 329.5,695.8 330.0,696.0 330.5,696.6 331.0,696.4 331.5,696.4 332.0,697.0 332.5,697.1 333.0,698.1 333.5,697.5 334.0,698.3 334.5,698.5 335.0,698.3 335.5,699.2 336.0,699.4 336.5,699.5 337.0,700.3 337.5,699.7 338.0,700.6 338.5,700.5 339.0,701.0 339.5,701.2 340.0,701.9 340.5,702.4 341.0,701.8 341.5,702.6 342.0,703.2 342.5,703.0 343.0,703.4 343.5,704.4 344.0,703.8 344.5,704.7 345.0,705.1 345.5,705.4 346.0,705.0 346.5,706.4 347.0,705.6 347.5,705.9 348.0,706.9 348.5,706.6 349.0,707.2 349.5,708.1 350.0,708.2 350.5,708.5 351.0,709.3 351.5,708.6 352.0,710.0 352.5,709.9 353.0,710.3 353.5,709.8 354.0,711.1 354.5,710.6 355.0,710.8 355.5,711.3 356.0,711.2 356.5,712.1 357.0,712.2 357.5,711.7 358.0,711.7 358.5,712.1 359.0,713.0 359.5,712.3 360.0,712.7 360.5,712.5 361.0,713.1 361.5,713.9 362.0,713.3 362.5,713.0 363.0,714.0 363.5,714.4 364.0,714.0 364.5,713.8 365.0,714.4 365.5,715.1 366.0,714.9 366.5,714.4 367.0,715.5 367.5,715.1 368.0,715.7 368.5,715.7 369.0,715.5 369.5,715.9 370.0,715.9 370.5,716.4 371.0,715.9 371.5,717.3 372.0,717.1 372.5,717.1 373.0,716.6 373.5,717.7 374.0,717.8 374.5,716.7 375.0,717.1 375.5,717.0 376.0,717.4 376.5,717.9 377.0,717.9 377.5,717.1 378.0,716.7 378.5,717.0 379.0,716.9 379.5,715.2 380.0,713.9 380.5,712.5 381.0,711.2 381.5,709.8 381.5,690.0 382.5,690.0 382.5,782.5 398.5,782.5"/>
<polyline fill="none" stroke="#ff0000" points="54.5,782.5 71.5,782.5 71.5,686.0 72.5,686.0 72.5,711.7 73.0,713.3 73.5,714.4 74.0,715.5 74.5,716.8 75.0,717.7 75.5,717.1 76.0,717.2 76.5,716.9 77.0,717.3 77.5,716.8 78.0,717.2 78.5,717.3 79.0,716.8 79.5,717.1 80.0,716.8 80.5,716.0 81.0,716.4 81.5,715.9 82.0,715.9 82.5,715.5 83.0,715.8 83.5,715.3 84.0,714.8 84.5,715.1 85.0,715.1 85.5,714.4 86.0,714.2 86.5,714.2 87.0,714.6 87.5,714.5 88.0,714.0 88.5,714.1 89.0,713.8 89.5,713.2 90.0,712.7 90.5,713.1 91.0,712.9 91.5,712.5 92.0,712.2 92.5,712.2 93.0,712.1 93.5,711.7 94.0,711.6 94.5,711.6 95.0,711.8 95.5,711.2 96.0,710.6 96.5,710.3 97.0,710.2 97.5,709.7 98.0,709.4 98.5,709.5 99.0,708.7 99.5,708.9 100.0,708.5 100.5,708.5 101.0,708.3 101.5,708.0 102.0,707.7 102.5,707.1 103.0,707.1 103.5,706.5 104.0,706.5 104.5,705.9 105.0,705.8 105.5,705.1 106.0,705.0 106.5,705.5 107.0,704.5 107.5,704.6 108.0,704.3 108.5,704.1 109.0,703.6 109.5,703.4 110.0,702.6 110.5,702.3 111.0,702.2 111.5,701.8 112.0,701.5 112.5,701.2 113.0,701.3 113.5,700.7 114.0,701.1 114.5,700.5 115.0,700.1 115.5,699.9 116.0,699.2 116.5,699.5 117.0,699.2 117.5,698.8 118.0,698.2 118.5,698.3 119.0,697.9 119.5,697.5 120.0,697.4 120.5,696.9 121.0,696.4 121.5,696.2 122.0,695.6 122.5,695.3 123.0,695.5 123.5,695.2 124.0,695.1 124.5,694.7 125.0,694.2 125.5,693.5 126.0,693.6 126.5,693.7 127.0,693.3 127.5,692.8 128.0,692.5 128.5,692.0 129.0,691.7 129.5,691.4 130.0,691.7 130.5,691.3 131.0,690.6 131.5,690.5 132.0,690.0 132.5,689.9 133.0,690.0 133.5,689.6 134.0,689.2 134.5,688.8 135.0,688.8 135.5,688.8 136.0,688.1 136.5,687.6 137.0,687.3 137.5,687.1 138.0,687.4 138.5,686.9 139.0,686.8 139.5,686.1 140.0,685.9 140.5,685.9 141.0,685.8 141.5,685.2 142.0,684.8 142.5,685.0 143.0,684.4 143.5,684.5 144.0,683.8 144.5,683.9 145.0,683.8 145.5,683.5 146.0,683.0 146.5,683.0 147.0,682.4 147.5,682.2 148.0,682.0 148.5,682.1 149.0,681.4 149.5,681.6 150.0,681.3 150.5,681.1 151.0,680.5 151.5,680.2 152.0,680.0 152.5,680.0 153.0,679.8 153.5,679.5 154.0,679.1 154.5,678.8 155.0,678.8 155.5,678.6 156.0,678.0 156.5,677.8 157.0,677.9 157.5,677.7 158.0,677.2 158.5,677.0 159.0,676.8 159.5,676.7 160.0,676.2 160.5,676.4 161.0,676.0 161.5,675.9 162.0,675.4 162.5,675.5 163.0,675.2 163.5,674.8 164.0,674.8 164.5,674.5 165.0,674.3 165.5,673.8 166.0,673.6 166.5,673.6 167.0,673.2 167.5,673.1 168.0,672.7 168.5,672.8 169.0,672.4 169.5,672.3 170.0,671.9 170.5,671.8 171.0,671.5 171.5,671.5 172.0,671.2 172.5,670.9 173.0,670.7 173.5,670.6 174.0,670.3 174.5,670.2 175.0,670.0 175.5,669.8 176.0,669.7 176.5,669.5 177.0,669.2 177.5,669.1 178.0,668.8 178.5,668.6 179.0,668.5 179.5,668.2 180.0,668.0 180.5,667.8 181.0,667.7 181.5,667.4 182.0,667.3 182.5,667.1 183.0,666.9 183.5,666.7 184.0,666.5 184.5,666.3 185.0,666.1 185.5,665.9 186.0,665.8 186.5,665.6 187.0,665.4 187.5,665.2 188.0,665.0 188.5,664.8 189.0,664.7 189.5,664.5 190.0,664.3 190.5,664.1 191.0,663.9 191.5,663.8 192.0,663.6 192.5,663.4 193.0,663.2 193.5,663.0 194.0,662.8 194.5,662.7 195.0,662.5 195.5,662.3 196.0,662.1 196.5,661.9 197.0,661.7 197.5,661.6 198.0,661.4 198.5,661.2 199.0,661.1 199.5,660.9 200.0,660.8 200.5,660.7 201.0,660.6 201.5,660.4 202.0,660.3 202.5,660.2 203.0,660.1 203.5,659.9 204.0,659.8 204.5,659.7 205.0,659.5 205.5,659.4 206.0,659.3 206.5,659.2 207.0,659.0 207.5,658.9 208.0,658.8 208.5,658.6 209.0,658.5 209.5,658.4 210.0,658.3 210.5,658.1 211.0,658.0 211.5,657.9 212.0,657.8 212.5,657.6 213.0,657.5 213.5,657.4 214.0,657.2 214.5,657.0 215.0,656.8 215.5,656.6 216.0,656.5 216.5,656.3 217.0,656.1 217.5,655.9 218.0,655.7 218.5,655.5 219.0,655.4 219.5,655.2 220.0,655.0 220.5,654.8 221.0,654.6 221.5,654.3 222.0,654.0 222.5,653.7 223.0,653.4 223.5,653.1 224.0,652.9 224.5,652.6 225.0,652.4 225.5,652.1 225.5,651.5 225.5,648.5 226.5,648.5 226.5,633.5 227.5,633.5 227.5,648.5 228.5,648.5 228.5,651.5 228.5,652.1 229.0,652.5 229.5,652.9 230.0,653.4 230.5,654.0 231.0,654.5 231.5,655.1 232.0,655.6 232.5,655.8 233.0,655.9 233.5,656.1 234.0,656.3 234.5,656.5 235.0,656.6 235.5,656.8 236.0,657.0 236.5,657.2 237.0,657.3 237.5,657.5 238.0,657.7 238.5,657.8 239.0,658.0 239.5,658.2 240.0,658.4 240.5,658.6 241.0,658.7 241.5,658.9 242.0,659.1 242.5,659.3 243.0,659.4 243.5,659.6 244.0,659.8 244.5,660.0 245.0,660.1 245.5,660.3 246.0,660.5 246.5,660.7 247.0,660.8 247.5,661.0 248.0,661.2 248.5,661.4 249.0,661.6 249.5,661.7 250.0,661.9 250.5,662.1 251.0,662.2 251.5,662.4 252.0,662.5 252.5,662.7 253.0,662.9 253.5,663.0 254.0,663.2 254.5,663.4 255.0,663.5 255.5,663.7 256.0,663.8 256.5,664.0 257.0,664.2 257.5,664.3 258.0,664.5 258.5,664.7 259.0,664.8 259.5,665.0 260.0,665.1 260.5,665.3 261.0,665.5 261.5,665.6 262.0,665.8 262.5,666.0 263.0,666.1 263.5,666.3 264.0,666.4 264.5,666.6 265.0,666.8 265.5,666.9 266.0,667.1 266.5,667.3 267.0,667.4 267.5,667.6 268.0,667.8 268.5,667.9 269.0,668.1 269.5,668.3 270.0,668.4 270.5,668.6 271.0,668.8 271.5,668.9 272.0,669.1 272.5,669.3 273.0,669.5 273.5,669.6 274.0,669.8 274.5,669.9 275.0,670.1 275.5,670.4 276.0,670.4 276.5,670.7 277.0,670.9 277.5,671.1 278.0,671.1 278.5,671.3 279.0,671.5 279.5,671.7 280.0,671.8 280.5,672.0 281.0,672.2 281.5,672.3 282.0,672.6 282.5,672.7 283.0,673.1 283.5,673.4 284.0,673.3 284.5,673.5 285.0,673.9 285.5,674.0 286.0,674.3 286.5,674.3 287.0,674.5 287.5,674.9 288.0,675.1 288.5,675.4 289.0,675.7 289.5,675.6 290.0,675.9 290.5,676.0 291.0,676.3 291.5,676.4 292.0,676.9 292.5,676.9 293.0,676.9 293.5,677.4 294.0,677.7 294.5,677.9 295.0,677.9 295.5,677.9 296.0,678.5 296.5,678.8 297.0,678.9 297.5,679.0 298.0,679.2 298.5,679.6 299.0,679.5 299.5,680.0 300.0,680.1 300.5,680.1 301.0,680.7 301.5,680.7 302.0,680.8 302.5,681.0 303.0,681.6 303.5,681.5 304.0,682.0 304.5,682.3 305.0,682.1 305.5,682.5 306.0,682.9 306.5,683.0 307.0,683.4 307.5,683.3 308.0,683.7 308.5,683.7 309.0,684.3 309.5,684.5 310.0,684.6 310.5,684.7 311.0,685.0 311.5,685.4 312.0,685.3 312.5,685.8 313.0,685.9 313.5,686.2 314.0,686.4 314.5,687.0 315.0,686.8 315.5,687.1 316.0,687.3 316.5,687.5 317.0,688.0 317.5,688.6 318.0,688.9 318.5,688.8 319.0,689.0 319.5,689.6 320.0,689.6 320.5,689.9 321.0,690.2 321.5,690.0 322.0,690.8 322.5,690.5 323.0,691.1 323.5,691.7 324.0,691.6 324.5,691.8 325.0,692.3 325.5,692.8 326.0,692.8 326.5,692.7 327.0,693.6 327.5,693.2 328.0,694.0 328.5,694.4 329.0,694.1 329.5,694.7 330.0,695.1 330.5,695.0 331.0,695.3 331.5,695.4 332.0,695.8 332.5,696.0 333.0,696.5 333.5,697.1 334.0,697.4 334.5,697.7 335.0,697.9 335.5,698.3 336.0,698.0 336.5,698.7 337.0,698.5 337.5,699.2 338.0,699.8 338.5,699.7 339.0,699.8 339.5,700.1 340.0,700.6 340.5,701.4 341.0,701.7 341.5,701.8 342.0,702.4 342.5,702.5 343.0,702.4 343.5,702.8 344.0,703.4 344.5,703.7 345.0,704.0 345.5,704.2 346.0,704.2 346.5,705.2 347.0,704.9 347.5,705.9 348.0,705.4 348.5,706.5 349.0,706.3 349.5,707.0 350.0,706.6 350.5,707.3 351.0,707.4 351.5,708.2 352.0,708.5 352.5,708.6 353.0,709.2 353.5,709.8 354.0,709.1 354.5,709.7 355.0,710.0 355.5,710.2 356.0,710.0 356.5,710.8 357.0,710.3 357.5,711.1 358.0,710.9 358.5,710.7 359.0,711.6 359.5,711.0 360.0,711.9 360.5,711.9 361.0,712.4 361.5,712.5 362.0,712.2 362.5,712.1 363.0,712.4 363.5,712.3 364.0,713.2 364.5,712.7 365.0,713.0 365.5,713.3 366.0,713.6 366.5,714.1 367.0,714.0 367.5,714.3 368.0,714.0 368.5,714.4 369.0,714.4 369.5,715.1 370.0,714.4 370.5,715.2 371.0,715.4 371.5,715.3 372.0,714.9 372.5,715.3 373.0,715.4 373.5,715.5 374.0,715.6 374.5,716.6 375.0,716.5 375.5,716.7 376.0,716.6 376.5,716.0 377.0,716.5 377.5,715.7 378.0,715.2 378.5,715.6 379.0,714.8 379.5,714.2 380.0,712.9 380.5,711.1 381.0,709.9 381.5,708.9 381.5,685.0 382.5,685.0 382.5,782.5 398.5,782.5"/>
<line x1="53.5" y1="633" x2="53.5" y2="783" stroke="#000" stroke-width="1"/>
<line x1="48" y1="769.5" x2="53" y2="769.5" stroke="#000" stroke-width="1"/>
<line x1="48" y1="764.5" x2="53" y2="764.5" stroke="#000" stroke-width="1"/>
<line x1="48" y1="760.5" x2="53" y2="760.5" stroke="#000" stroke-width="1"/>
<line x1="48" y1="757.5" x2="53" y2="757.5" stroke="#000" stroke-width="1"/>
<line x1="48" y1="754.5" x2="53" y2="754.5" stroke="#000" stroke-width="1"/>
<line x1="48" y1="752.5" x2="53" y2="752.5" stroke="#000" stroke-width="1"/>
<line x1="48" y1="750.5" x2="53" y2="750.5" stroke="#000" stroke-width="1"/>
<line x1="48" y1="749.5" x2="53" y2="749.5" stroke="#000" stroke-width="1"/>
<line x1="48" y1="747.5" x2="53" y2="747.5" stroke="#000" stroke-width="1"/>
<line x1="48" y1="738.5" x2="53" y2="738.5" stroke="#000" stroke-width="1"/>
<line x1="48" y1="732.5" x2="53" y2="732.5" stroke="#000" stroke-width="1"/>
<line x1="48" y1="728.5" x2="53" y2="728.5" stroke="#000" stroke-width="1"/>
<line x1="48" y1="725.5" x2="53" y2="725.5" stroke="#000" stroke-width="1"/>
<line x1="48" y1="723.5" x2="53" y2="723.5" stroke="#000" stroke-width="1"/>
<line x1="48" y1="721.5" x2="53" y2="721.5" stroke="#000" stroke-width="1"/>
<line x1="48" y1="719.5" x2="53" y2="719.5" stroke="#000" stroke-width="1"/>
<line x1="48" y1="717.5" x2="53" y2="717.5" stroke="#000" stroke-width="1"/>
<line x1="48" y1="716.5" x2="53" y2="716.5" stroke="#000" stroke-width="1"/>
<line x1="48" y1="706.5" x2="53" y2="706.5" stroke="#000" stroke-width="1"/>
<line x1="48" y1="701.5" x2="53" y2="701.5" stroke="#000" stroke-width="1"/>
<line x1="48" y1="697.5" x2="53" y2="697.5" stroke="#000" stroke-width="1"/>
<line x1="48" y1="694.5" x2="53" y2="694.5" stroke="#000" stroke-width="1"/>
<line x1="48" y1="691.5" x2="53" y2="691.5" stroke="#000" stroke-width="1"/>
<line x1="48" y1="689.5" x2="53" y2="689.5" stroke="#000" stroke-width="1"/>
<line x1="48" y1="688.5" x2="53" y2="688.5" stroke="#000" stroke-width="1"/>
<line x1="48" y1="686.5" x2="53" y2="686.5" stroke="#000" stroke-width="1"/>
<line x1="48" y1="684.5" x2="53" y2="684.5" stroke="#000" stroke-width="1"/>
<line x1="48" y1="675.5" x2="53" y2="675.5" stroke="#000" stroke-width="1"/>
<line x1="48" y1="670.5" x2="53" y2="670.5" stroke="#000" stroke-width="1"/>
<line x1="48" y1="666.5" x2="53" y2="666.5" stroke="#000" stroke-width="1"/>
<line x1="48" y1="663.5" x2="53" y2="663.5" stroke="#000" stroke-width="1"/>
<line x1="48" y1="660.5" x2="53" y2="660.5" stroke="#000" stroke-width="1"/>
<line x1="48" y1="658.5" x2="53" y2="658.5" stroke="#000" stroke-width="1"/>
<line x1="48" y1="656.5" x2="53" y2="656.5" stroke="#000" stroke-width="1"/>
<line x1="48" y1="655.5" x2="53" y2="655.5" stroke="#000" stroke-width="1"/>
<line x1="48" y1="653.5" x2="53" y2="653.5" stroke="#000" stroke-width="1"/>
<line x1="48" y1="644.5" x2="53" y2="644.5" stroke="#000" stroke-width="1"/>
<line x1="48" y1="638.5" x2="53" y2="638.5" stroke="#000" stroke-width="1"/>
<line x1="48" y1="634.5" x2="53" y2="634.5" stroke="#000" stroke-width="1"/>
<text x="43" y="690" font-size="16" font-weight="normal" font-family="'Liberation Sans', sans-serif" text-anchor="end" >1000</text>
<text x="43" y="722" font-size="16" font-weight="normal" font-family="'Liberation Sans', sans-serif" text-anchor="end" >100</text>
<text x="43" y="753" font-size="16" font-weight="normal" font-family="'Liberation Sans', sans-serif" text-anchor="end" >10</text>
<line x1="48" y1="633.5" x2="53" y2="633.5" stroke="#000" stroke-width="1"/>
<line x1="48" y1="777.5" x2="53" y2="777.5" stroke="#000" stroke-width="1"/>
<line x1="48" y1="779.5" x2="53" y2="779.5" stroke="#000" stroke-width="1"/>
<line x1="48" y1="780.5" x2="53" y2="780.5" stroke="#000" stroke-width="1"/>
<line x1="69.5" y1="782" x2="69.5" y2="788" stroke="#000" stroke-width="1"/>
<text x="67.5" y="803" font-size="16" font-weight="normal" font-family="'Liberation Sans', sans-serif" text-anchor="middle" >-1</text>
<line x1="100.5" y1="782" x2="100.5" y2="788" stroke="#000" stroke-width="1"/>
<text x="98.5" y="803" font-size="16" font-weight="normal" font-family="'Liberation Sans', sans-serif" text-anchor="middle" >-0,8</text>
<line x1="131.5" y1="782" x2="131.5" y2="788" stroke="#000" stroke-width="1"/>
<text x="129.5" y="803" font-size="16" font-weight="normal" font-family="'Liberation Sans', sans-serif" text-anchor="middle" >-0,6</text>
<line x1="163.5" y1="782" x2="163.5" y2="788" stroke="#000" stroke-width="1"/>
<text x="161.5" y="803" font-size="16" font-weight="normal" font-family="'Liberation Sans', sans-serif" text-anchor="middle" >-0,4</text>
<line x1="194.5" y1="782" x2="194.5" y2="788" stroke="#000" stroke-width="1"/>
<text x="192.5" y="803" font-size="16" font-weight="normal" font-family="'Liberation Sans', sans-serif" text-anchor="middle" >-0,2</text>
<line x1="226.5" y1="782" x2="226.5" y2="788" stroke="#000" stroke-width="1"/>
<text x="226.5" y="803" font-size="16" font-weight="normal" font-family="'Liberation Sans', sans-serif" text-anchor="middle" >0</text>
<line x1="257.5" y1="782" x2="257.5" y2="788" stroke="#000" stroke-width="1"/>
<text x="257.5" y="803" font-size="16" font-weight="normal" font-family="'Liberation Sans', sans-serif" text-anchor="middle" >0,2</text>
<line x1="288.5" y1="782" x2="288.5" y2="788" stroke="#000" stroke-width="1"/>
<text x="288.5" y="803" font-size="16" font-weight="normal" font-family="'Liberation Sans', sans-serif" text-anchor="middle" >0,4</text>
<line x1="320.5" y1="782" x2="320.5" y2="788" stroke="#000" stroke-width="1"/>
<text x="320.5" y="803" font-size="16" font-weight="normal" font-family="'Liberation Sans', sans-serif" text-anchor="middle" >0,6</text>
<line x1="351.5" y1="782" x2="351.5" y2="788" stroke="#000" stroke-width="1"/>
<text x="351.5" y="803" font-size="16" font-weight="normal" font-family="'Liberation Sans', sans-serif" text-anchor="middle" >0,8</text>
<line x1="382.5" y1="782" x2="382.5" y2="788" stroke="#000" stroke-width="1"/>
<text x="382.5" y="803" font-size="16" font-weight="normal" font-family="'Liberation Sans', sans-serif" text-anchor="middle" >1</text>
<text x="451.3" y="627" font-size="16" font-weight="normal" font-family="'Liberation Sans', sans-serif" text-anchor="start" textLength="130.3" lengthAdjust="spacingAndGlyphs">Peak vs RMS level</text>
<text x="441" y="649" font-size="16" font-weight="normal" font-family="'Liberation Sans', sans-serif" text-anchor="end" >dBFS</text>
<text x="463.2" y="753.5" font-size="11.5" font-family="'Liberation Sans', sans-serif" stroke="#000" stroke-width="0.25" text-anchor="middle" transform="rotate(-45 463.2 753.5)" dy="4.3">10</text>
<text x="463.2" y="724.5" font-size="11.5" font-family="'Liberation Sans', sans-serif" stroke="#000" stroke-width="0.25" text-anchor="middle" transform="rotate(-45 463.2 724.5)" dy="4.3">20</text>
<text x="463.2" y="694.5" font-size="11.5" font-family="'Liberation Sans', sans-serif" stroke="#000" stroke-width="0.25" text-anchor="middle" transform="rotate(-45 463.2 694.5)" dy="4.3">30</text>
<text x="463.2" y="665.5" font-size="11.5" font-family="'Liberation Sans', sans-serif" stroke="#000" stroke-width="0.25" text-anchor="middle" transform="rotate(-45 463.2 665.5)" dy="4.3">40</text>
<text x="482.2" y="765.2" font-size="11.5" font-family="'Liberation Sans', sans-serif" stroke="#000" stroke-width="0.25" text-anchor="middle" transform="rotate(-45 482.2 765.2)" dy="4.3">0 dB</text>
<path transform="translate(0,0.5)" fill="none" stroke="#fff" d="M535 634h2M541 634h2M546 634h2M550 634h2M553 634h1M555 634h1M558 634h2M562 634h2M565 634h2M569 634h1M571 634h2M574 634h1M534 635h4M540 635h4M545 635h3M549 635h4M554 635h1M557 635h4M562 635h3M566 635h2M570 635h4M575 635h1M534 636h4M540 636h2M545 636h3M549 636h4M554 636h1M557 636h4M562 636h3M566 636h2M570 636h4M575 636h1M533 637h1M535 637h2M542 637h2M546 637h1M548 637h1M550 637h2M553 637h1M555 637h1M558 637h2M562 637h2M565 637h2M569 637h1M571 637h2M574 637h1M532 638h3M541 638h4M547 638h3M554 638h1M556 638h2M532 639h1M541 639h4M547 639h4M552 639h1M556 639h4M567 639h2M533 640h1M542 640h2M545 640h2M548 640h2M551 640h1M553 640h2M557 640h2M566 640h2M571 640h1M532 641h1M540 641h2M544 641h3M551 641h1M553 641h3M532 642h1M539 642h4M544 642h4M549 642h2M552 642h4M562 642h1M564 642h1M566 642h1M569 642h1M539 643h1M542 643h1M545 643h2M548 643h4M553 643h2M563 643h1M568 643h1M540 644h2M544 644h1M548 644h4M555 644h2M528 645h2M537 645h2M540 645h3M545 645h2M549 645h2M552 645h1M554 645h3M527 646h3M536 646h4M541 646h2M544 646h1M546 646h1M551 646h1M554 646h3M565 646h1M527 647h4M536 647h4M541 647h1M543 647h3M548 647h3M555 647h2M563 647h1M525 648h2M531 648h1M535 648h1M537 648h2M542 648h4M563 648h1M525 649h1M529 649h2M532 649h1M534 649h3M540 649h2M547 649h2M559 649h1M561 649h1M528 650h4M534 650h4M539 650h2M542 650h2M545 650h1M547 650h3M557 650h2M560 650h1M512 651h2M524 651h1M528 651h4M533 651h1M535 651h2M539 651h1M541 651h4M546 651h1M548 651h2M551 651h1M511 652h4M521 652h1M523 652h2M529 652h2M532 652h2M538 652h1M541 652h4M546 652h1M548 652h1M551 652h1M553 652h1M511 653h4M520 653h1M523 653h3M531 653h1M540 653h1M542 653h2M545 653h1M549 653h2M552 653h2M557 653h1M507 654h2M510 654h1M512 654h2M521 654h2M529 654h4M537 654h2M540 654h2M546 654h1M550 654h2M556 654h1M506 655h4M511 655h1M521 655h2M527 655h1M530 655h2M533 655h1M536 655h4M541 655h2M545 655h1M548 655h2M551 655h1M506 656h4M511 656h2M528 656h1M533 656h1M536 656h4M547 656h4M505 657h1M507 657h2M510 657h2M520 657h2M529 657h1M531 657h1M535 657h1M537 657h2M547 657h4M504 658h3M519 658h3M528 658h1M530 658h1M532 658h2M536 658h1M540 658h1M548 658h2M497 659h2M504 659h4M519 659h2M522 659h2M528 659h1M531 659h4M536 659h3M544 659h2M496 660h4M505 660h2M521 660h4M526 660h1M529 660h1M531 660h4M536 660h3M542 660h4M547 660h1M496 661h4M519 661h1M521 661h4M526 661h2M532 661h2M536 661h2M539 661h1M543 661h2M547 661h1M494 662h2M497 662h2M500 662h1M515 662h1M522 662h2M525 662h3M538 662h2M542 662h1M545 662h1M494 663h2M499 663h2M525 663h1M535 663h2M538 663h3M543 663h2M548 663h1M495 664h2M498 664h2M521 664h1M524 664h1M529 664h1M534 664h4M539 664h2M545 664h1M497 665h1M523 665h1M530 665h1M534 665h4M544 665h1M496 666h2M520 666h2M523 666h1M535 666h2M519 667h4M529 667h2M492 668h2M519 668h4M524 668h1M528 668h4M541 668h1M477 669h2M491 669h4M520 669h2M526 669h1M528 669h4M540 669h1M476 670h4M491 670h4M514 670h2M518 670h1M522 670h1M524 670h2M527 670h1M529 670h2M532 670h2M535 670h2M476 671h4M490 671h1M492 671h2M513 671h4M518 671h1M520 671h2M524 671h3M532 671h3M475 672h1M477 672h2M490 672h2M511 672h1M513 672h4M519 672h4M525 672h2M528 672h4M533 672h2M539 672h1M474 673h3M491 673h2M514 673h2M517 673h2M520 673h3M530 673h2M533 673h1M538 673h1M474 674h4M511 674h1M513 674h1M516 674h3M521 674h1M528 674h2M475 675h2M512 675h1M516 675h2M519 675h2M524 675h2M527 675h4M536 675h1M514 676h2M518 676h1M521 676h1M523 676h4M528 676h3M533 676h1M506 677h1M513 677h4M523 677h4M528 677h2M482 678h2M513 678h3M517 678h2M520 678h1M524 678h2M481 679h4M505 679h1M507 679h2M514 679h1M516 679h4M521 679h1M523 679h1M526 679h1M528 679h2M481 680h4M504 680h1M506 680h4M516 680h4M521 680h1M524 680h2M528 680h1M479 681h2M482 681h2M504 681h1M506 681h4M512 681h1M517 681h1M520 681h1M526 681h1M479 682h3M505 682h1M507 682h2M510 682h2M513 682h1M524 682h2M528 682h1M480 683h2M509 683h3M515 683h1M526 683h1M503 684h2M506 684h1M509 684h2M517 684h2M525 684h2M502 685h4M508 685h1M516 685h4M524 685h2M499 686h2M502 686h4M516 686h4M489 687h2M498 687h4M503 687h2M507 687h1M515 687h1M517 687h2M521 687h1M488 688h4M498 688h4M512 688h2M516 688h1M520 688h1M488 689h4M499 689h2M502 689h1M506 689h2M511 689h4M518 689h2M487 690h1M489 690h2M498 690h1M503 690h1M505 690h2M511 690h4M516 690h4M487 691h2M496 691h2M501 691h1M505 691h1M507 691h2M510 691h1M512 691h2M515 691h1M517 691h2M488 692h2M495 692h4M500 692h1M502 692h2M506 692h4M511 692h1M514 692h2M495 693h4M501 693h4M506 693h4M513 693h2M476 694h2M496 694h2M501 694h4M507 694h2M475 695h4M494 695h1M499 695h2M502 695h2M506 695h1M475 696h4M492 696h2M495 696h2M498 696h4M505 696h4M476 697h2M491 697h2M496 697h1M498 697h4M505 697h4M473 698h2M494 698h2M497 698h1M499 698h2M502 698h2M506 698h2M472 699h4M489 699h1M491 699h1M493 699h4M501 699h4M472 700h4M488 700h1M490 700h2M493 700h4M498 700h2M501 700h4M473 701h2M490 701h3M494 701h2M497 701h1M499 701h2M502 701h2M471 702h2M487 702h2M491 702h2M496 702h3M500 702h1M471 703h4M486 703h3M490 703h1M495 703h4M502 703h2M472 704h2M486 704h2M489 704h4M496 704h2M499 704h1M501 704h3M491 705h2M494 705h1M498 705h2M501 705h2M486 706h2M489 706h2M497 706h2M485 707h2M488 707h1M491 707h1M493 707h2M485 708h2M489 708h2M493 708h1M496 708h2M484 709h1M486 709h1M488 709h4M460 710h2M482 710h1M484 710h1M488 710h4M459 711h4M480 711h2M483 711h1M489 711h2M459 712h4M479 712h4M485 712h2M458 713h1M460 713h2M479 713h3M483 713h2M486 713h2M491 713h2M457 714h3M480 714h1M482 714h4M487 714h1M491 714h2M457 715h4M478 715h1M482 715h4M488 715h1M490 715h2M458 716h2M477 716h3M481 716h1M483 716h2M471 717h2M477 717h4M485 717h1M470 718h3M474 718h2M478 718h2M481 718h1M483 718h1M470 719h2M473 719h4M482 719h3M473 720h4M479 720h2M482 720h3M470 721h2M474 721h2M478 721h4M483 721h1M469 722h4M478 722h4M467 723h1M469 723h4M474 723h2M479 723h2M466 724h2M470 724h2M474 724h1M476 724h2M466 725h1M465 726h1M467 726h2M466 727h2M469 727h2M466 728h1M468 728h4M473 728h1M461 729h2M468 729h4M473 729h2M462 730h1M464 730h2M469 730h2M472 730h3M461 731h1M463 731h4M468 731h1M472 731h2M459 732h2M463 732h4M468 732h2M456 733h1M458 733h4M464 733h2M469 733h2M455 734h2M458 734h4M472 734h1M455 735h1M457 735h1M459 735h2M462 735h1M464 735h1M471 735h1M456 736h3M461 736h2M464 736h2M456 737h2M461 737h1M463 737h3M454 738h2M458 738h2M463 738h2M454 739h2M457 739h4M462 739h1M452 740h1M455 740h1M457 740h4M463 740h1M452 741h2M458 741h2M452 742h2M456 742h2M452 743h1M455 743h4M455 744h4M452 745h1M456 745h2M454 746h2M454 747h4M455 748h2M452 749h1M452 750h1"/>
<path transform="translate(0,0.5)" fill="none" stroke="#000" d="M453 634h1M482 634h1M511 634h1M599 634h1M452 635h1M481 635h1M510 635h1M598 635h1M480 636h1M509 636h1M597 636h1M479 637h1M508 637h1M596 637h1M478 638h1M507 638h1M595 638h1M477 639h1M506 639h1M594 639h1M476 640h1M505 640h1M593 640h1M475 641h1M504 641h1M592 641h1M474 642h1M503 642h1M591 642h1M473 643h1M502 643h1M590 643h1M472 644h1M501 644h1M589 644h1M471 645h1M500 645h1M588 645h1M470 646h1M499 646h1M587 646h1M469 647h1M498 647h1M586 647h1M468 648h1M497 648h1M585 648h1M467 649h1M496 649h1M584 649h1M466 650h1M495 650h1M583 650h1M465 651h1M494 651h1M582 651h1M464 652h1M493 652h1M581 652h1M463 653h1M492 653h1M580 653h1M462 654h1M491 654h1M579 654h1M461 655h1M490 655h1M578 655h1M460 656h1M489 656h1M577 656h1M459 657h1M488 657h1M518 657h1M576 657h1M458 658h1M487 658h1M517 658h1M575 658h1M457 659h1M486 659h1M516 659h1M574 659h1M456 660h1M485 660h1M515 660h1M573 660h1M455 661h1M484 661h1M514 661h1M572 661h1M454 662h1M483 662h1M513 662h1M571 662h1M453 663h1M482 663h1M512 663h1M570 663h1M452 664h1M481 664h1M511 664h1M569 664h1M480 665h1M510 665h1M568 665h1M479 666h1M509 666h1M567 666h1M478 667h1M508 667h1M566 667h1M507 668h1M565 668h1M506 669h1M564 669h1M505 670h1M563 670h1M474 671h1M504 671h1M562 671h1M473 672h1M503 672h1M561 672h1M472 673h1M502 673h1M560 673h1M471 674h1M501 674h1M559 674h1M470 675h1M500 675h1M558 675h1M469 676h1M499 676h1M557 676h1M468 677h1M498 677h1M556 677h1M467 678h1M497 678h1M555 678h1M466 679h1M496 679h1M554 679h1M465 680h1M495 680h1M553 680h1M464 681h1M494 681h1M552 681h1M463 682h1M493 682h1M551 682h1M462 683h1M492 683h1M550 683h1M461 684h1M491 684h1M549 684h1M460 685h1M490 685h1M548 685h1M459 686h1M547 686h1M458 687h1M546 687h1M457 688h1M545 688h1M456 689h1M486 689h1M544 689h1M455 690h1M485 690h1M543 690h1M454 691h1M484 691h1M542 691h1M453 692h1M483 692h1M541 692h1M452 693h1M482 693h1M540 693h1M481 694h1M539 694h1M480 695h1M538 695h1M537 696h1M536 697h1M535 698h1M534 699h1M533 700h1M532 701h1M531 702h1M530 703h1M529 704h1M470 705h1M528 705h1M469 706h1M527 706h1M468 707h1M526 707h1M467 708h1M525 708h1M466 709h1M524 709h1M465 710h1M494 710h1M523 710h1M464 711h1M493 711h1M522 711h1M521 712h1M520 713h1M519 714h1M518 715h1M517 716h1M516 717h1M457 718h1M515 718h1M456 719h1M514 719h1M455 720h1M513 720h1M454 721h1M512 721h1M453 722h1M511 722h1M452 723h1M510 723h1M509 724h1M479 725h1M508 725h1M478 726h1M507 726h1M477 727h1M506 727h1M476 728h1M505 728h1M504 729h1M503 730h1M502 731h1M501 732h1M500 733h1M499 734h1M498 735h1M468 736h1M497 736h1M467 737h1M496 737h1M466 738h1M495 738h1M494 739h1M493 740h1M492 741h1M462 742h1M491 742h1M461 743h1M490 743h1M460 744h1M489 744h1M459 745h1M488 745h1M487 746h1M486 747h1M485 748h1M484 749h1M454 750h1M483 750h1M453 751h1M482 751h1M481 752h1M480 753h1M479 754h1M478 755h1M477 756h1M476 757h1M475 758h1M474 759h1M473 760h1M472 761h1M471 762h1M470 763h1M469 764h1M468 765h1M467 766h1M466 767h1M465 768h1M464 769h1M463 770h1M462 771h1M461 772h1M460 773h1M459 774h1M458 775h1M457 776h1M456 777h1M455 778h1M454 779h1M453 780h1M452 781h1"/>
<path transform="translate(0,0.5)" fill="none" stroke="#0000ff" d="M575 634h1M576 635h1M576 636h1M532 637h1M575 637h1M531 638h1M573 638h2M531 639h1M571 639h3M570 640h1M572 640h1M569 641h3M568 642h1M570 642h1M531 643h1M567 643h1M569 643h1M566 644h3M565 645h2M564 646h1M566 646h1M525 647h1M564 647h2M524 648h1M562 648h1M564 648h1M524 649h1M562 649h2M561 650h2M521 651h2M559 651h2M520 652h1M558 652h2M519 653h1M558 653h1M519 654h1M557 654h1M519 655h1M555 655h2M513 656h1M519 656h1M554 656h1M504 657h1M512 657h1M553 657h2M503 658h1M510 658h2M552 658h2M503 659h1M508 659h1M517 659h1M551 659h3M504 660h1M507 660h1M516 660h1M550 660h3M494 661h1M505 661h2M515 661h1M549 661h3M493 662h1M514 662h1M548 662h2M493 663h1M514 663h1M547 663h1M549 663h1M494 664h1M546 664h3M494 665h3M545 665h3M495 666h1M498 666h1M543 666h3M496 667h2M542 667h2M542 668h1M541 669h1M540 670h2M489 671h1M539 671h2M474 672h1M489 672h1M494 672h1M538 672h1M540 672h1M473 673h1M490 673h1M493 673h1M537 673h1M539 673h1M473 674h1M478 674h1M491 674h2M536 674h3M474 675h1M477 675h1M535 675h1M537 675h1M475 676h2M534 676h3M532 677h2M531 678h2M503 679h1M531 679h1M479 680h1M502 680h1M530 680h1M478 681h1M529 681h2M478 682h1M501 682h1M529 682h1M479 683h1M482 683h1M501 683h1M527 683h2M480 684h2M522 684h3M527 684h1M498 685h1M522 685h2M526 685h1M497 686h1M522 686h4M496 687h1M522 687h1M496 688h1M521 688h1M497 689h1M520 689h1M486 690h1M520 690h1M486 691h1M491 691h1M519 691h1M487 692h1M490 692h1M517 692h2M488 693h2M516 693h1M494 694h1M515 694h1M478 698h1M489 698h1M509 698h1M477 699h1M488 699h1M508 699h1M487 700h1M506 700h2M471 701h1M505 701h1M470 702h1M475 702h1M504 702h2M470 703h1M475 703h1M504 703h1M471 704h1M474 704h1M504 704h1M472 705h2M485 705h1M503 705h1M501 706h2M499 707h1M495 708h1M498 708h2M494 709h5M493 710h1M496 710h2M492 712h1M457 713h1M493 713h1M456 714h1M490 714h1M493 714h1M456 715h1M461 715h1M489 715h1M492 715h1M457 716h1M460 716h1M488 716h4M458 717h2M487 717h1M486 718h1M486 719h1M486 720h1M485 721h1M484 722h1M476 723h1M482 723h2M475 724h1M478 724h1M474 725h1M476 725h2M464 727h1M474 727h1M461 728h2M464 728h1M475 728h1M460 729h1M463 729h1M459 730h1M467 733h1M472 733h2M468 734h1M471 734h1M473 734h1M469 735h2M472 735h1M470 736h2M465 739h1M464 740h1M461 741h3M453 744h1M453 745h2M452 746h2M458 746h1M453 747h1M458 747h1M454 748h1M457 748h1M455 749h2M452 752h1M452 753h1"/>
<path transform="translate(0,0.5)" fill="none" stroke="#ff0000" d="M534 634h1M537 634h1M540 634h1M543 634h3M548 634h2M552 634h1M554 634h1M556 634h2M560 634h2M564 634h1M567 634h2M570 634h1M573 634h1M533 635h1M538 635h2M544 635h1M548 635h1M553 635h1M555 635h2M561 635h1M565 635h1M568 635h2M574 635h1M533 636h1M538 636h2M542 636h3M548 636h1M553 636h1M555 636h2M561 636h1M565 636h1M568 636h2M574 636h1M534 637h1M537 637h5M544 637h2M547 637h1M549 637h1M552 637h1M554 637h1M556 637h2M560 637h2M564 637h1M567 637h2M570 637h1M573 637h1M535 638h6M545 638h2M550 638h4M555 638h1M558 638h15M533 639h8M545 639h2M551 639h1M553 639h3M560 639h7M569 639h2M532 640h1M534 640h8M544 640h1M547 640h1M550 640h1M552 640h1M555 640h2M559 640h7M568 640h2M531 641h1M533 641h7M542 641h2M547 641h4M552 641h1M556 641h13M531 642h1M533 642h6M543 642h1M548 642h1M551 642h1M556 642h6M563 642h1M565 642h1M567 642h1M532 643h7M540 643h2M543 643h2M547 643h1M552 643h1M555 643h8M564 643h3M528 644h12M542 644h2M545 644h3M552 644h3M557 644h9M527 645h1M530 645h7M539 645h1M543 645h2M547 645h2M551 645h1M553 645h1M557 645h8M526 646h1M530 646h6M540 646h1M543 646h1M545 646h1M547 646h4M552 646h2M557 646h7M526 647h1M531 647h5M540 647h1M542 647h1M546 647h2M551 647h4M557 647h6M527 648h4M532 648h3M536 648h1M539 648h3M546 648h16M526 649h3M531 649h1M533 649h1M537 649h3M542 649h5M549 649h10M560 649h1M512 650h2M524 650h4M532 650h2M538 650h1M541 650h1M544 650h1M546 650h1M550 650h7M559 650h1M511 651h1M514 651h1M523 651h1M525 651h3M532 651h1M534 651h1M537 651h2M540 651h1M545 651h1M547 651h1M550 651h1M552 651h7M510 652h1M515 652h1M522 652h1M525 652h4M531 652h1M534 652h4M539 652h2M545 652h1M547 652h1M549 652h2M552 652h1M554 652h4M507 653h2M510 653h1M515 653h1M521 653h2M526 653h5M532 653h8M541 653h1M544 653h1M546 653h3M551 653h1M554 653h3M506 654h1M509 654h1M511 654h1M514 654h1M520 654h1M523 654h6M533 654h4M539 654h1M542 654h4M547 654h3M552 654h4M505 655h1M510 655h1M512 655h2M520 655h1M523 655h4M528 655h2M532 655h1M534 655h2M540 655h1M543 655h2M546 655h2M550 655h1M552 655h3M505 656h1M510 656h1M520 656h8M529 656h4M534 656h2M540 656h7M551 656h3M506 657h1M509 657h1M519 657h1M522 657h7M530 657h1M532 657h3M536 657h1M539 657h8M551 657h2M497 658h2M507 658h2M518 658h1M522 658h6M529 658h1M531 658h1M534 658h2M537 658h3M541 658h7M550 658h2M496 659h1M499 659h1M518 659h1M521 659h1M524 659h4M529 659h2M535 659h1M539 659h5M546 659h5M495 660h1M500 660h1M517 660h4M525 660h1M527 660h2M530 660h1M535 660h1M539 660h3M546 660h1M548 660h2M495 661h1M500 661h1M516 661h3M520 661h1M525 661h1M528 661h4M534 661h2M538 661h1M540 661h3M545 661h2M548 661h1M496 662h1M499 662h1M501 662h1M516 662h6M524 662h1M528 662h10M540 662h2M543 662h2M546 662h2M496 663h3M501 663h1M515 663h10M526 663h9M537 663h1M541 663h2M545 663h2M497 664h1M500 664h1M515 664h6M522 664h2M525 664h4M530 664h4M538 664h1M541 664h4M498 665h2M515 665h8M524 665h6M531 665h3M538 665h6M514 666h6M522 666h1M524 666h11M537 666h6M492 667h2M513 667h6M523 667h6M531 667h11M477 668h2M491 668h1M494 668h1M513 668h6M523 668h1M525 668h3M532 668h9M476 669h1M479 669h1M490 669h1M495 669h1M513 669h7M522 669h4M527 669h1M532 669h8M475 670h1M480 670h1M490 670h1M495 670h1M513 670h1M516 670h2M519 670h3M523 670h1M526 670h1M528 670h1M531 670h1M534 670h1M537 670h3M475 671h1M480 671h1M491 671h1M494 671h1M511 671h2M517 671h1M519 671h1M522 671h2M527 671h5M535 671h4M476 672h1M479 672h1M492 672h2M510 672h1M512 672h1M517 672h2M523 672h2M527 672h1M532 672h1M535 672h3M477 673h2M509 673h5M516 673h1M519 673h1M523 673h7M532 673h1M534 673h3M508 674h3M512 674h1M514 674h2M519 674h2M522 674h6M530 674h6M507 675h5M513 675h3M518 675h1M521 675h3M526 675h1M531 675h4M506 676h8M516 676h2M519 676h2M522 676h1M527 676h1M531 676h2M482 677h2M505 677h1M507 677h6M517 677h6M527 677h1M530 677h2M481 678h1M484 678h1M504 678h9M516 678h1M519 678h1M521 678h3M526 678h5M480 679h1M485 679h1M504 679h1M506 679h1M509 679h5M515 679h1M520 679h1M522 679h1M524 679h2M527 679h1M530 679h1M480 680h1M485 680h1M503 680h1M505 680h1M510 680h6M520 680h1M522 680h2M526 680h2M529 680h1M481 681h1M484 681h1M502 681h2M505 681h1M510 681h2M513 681h4M518 681h2M521 681h5M527 681h2M482 682h2M502 682h3M506 682h1M509 682h1M512 682h1M514 682h10M526 682h2M502 683h7M512 683h3M516 683h10M501 684h2M505 684h1M507 684h2M511 684h6M519 684h3M499 685h3M506 685h2M509 685h7M520 685h2M489 686h2M498 686h1M501 686h1M506 686h10M520 686h2M488 687h1M491 687h1M497 687h1M502 687h1M505 687h2M508 687h7M516 687h1M519 687h2M487 688h1M492 688h1M497 688h1M502 688h10M514 688h2M517 688h3M487 689h1M492 689h1M498 689h1M501 689h1M503 689h3M508 689h3M515 689h3M488 690h1M491 690h1M496 690h2M499 690h4M504 690h1M507 690h4M515 690h1M489 691h2M495 691h1M498 691h3M502 691h3M506 691h1M509 691h1M511 691h1M514 691h1M516 691h1M494 692h1M499 692h1M501 692h1M504 692h2M510 692h1M512 692h2M516 692h1M476 693h2M494 693h1M499 693h2M505 693h1M510 693h3M515 693h1M475 694h1M478 694h1M495 694h1M498 694h3M505 694h2M509 694h6M474 695h1M479 695h1M492 695h2M495 695h4M501 695h1M504 695h2M507 695h5M474 696h1M479 696h1M491 696h1M494 696h1M497 696h1M502 696h3M509 696h2M473 697h3M478 697h1M490 697h1M493 697h3M497 697h1M502 697h3M509 697h1M472 698h1M475 698h3M490 698h4M496 698h1M498 698h1M501 698h1M504 698h2M508 698h1M471 699h1M476 699h1M490 699h1M492 699h1M497 699h4M505 699h3M471 700h1M476 700h1M489 700h1M492 700h1M497 700h1M500 700h1M505 700h1M472 701h1M475 701h1M487 701h3M493 701h1M496 701h1M498 701h1M501 701h1M504 701h1M473 702h2M486 702h1M489 702h2M493 702h3M499 702h1M501 702h3M485 703h1M489 703h1M491 703h4M499 703h3M485 704h1M488 704h1M493 704h3M498 704h1M500 704h1M486 705h5M493 705h1M495 705h3M500 705h1M485 706h1M488 706h1M491 706h6M499 706h1M484 707h1M487 707h1M489 707h2M492 707h1M495 707h4M484 708h1M487 708h2M491 708h2M494 708h1M460 709h2M482 709h2M485 709h1M487 709h1M492 709h2M459 710h1M462 710h1M480 710h2M483 710h1M485 710h3M492 710h1M458 711h1M463 711h1M479 711h1M482 711h1M484 711h5M491 711h2M458 712h1M463 712h1M478 712h1M483 712h2M487 712h5M459 713h1M462 713h1M478 713h1M482 713h1M485 713h1M488 713h3M460 714h2M478 714h2M481 714h1M486 714h1M488 714h2M477 715h1M479 715h3M486 715h2M471 716h2M476 716h1M480 716h1M482 716h1M485 716h3M470 717h1M473 717h4M481 717h4M486 717h1M469 718h1M473 718h1M476 718h2M480 718h1M482 718h1M484 718h2M469 719h1M472 719h1M477 719h5M485 719h1M470 720h3M477 720h2M481 720h1M485 720h1M469 721h1M472 721h2M476 721h2M482 721h1M484 721h1M467 722h2M473 722h5M482 722h2M466 723h1M468 723h1M473 723h1M477 723h2M481 723h1M465 724h1M468 724h2M472 724h2M479 724h2M464 725h2M467 725h7M464 726h1M466 726h1M469 726h5M465 727h1M468 727h1M471 727h3M465 728h1M467 728h1M472 728h1M474 728h1M464 729h4M472 729h1M475 729h1M460 730h2M463 730h1M466 730h3M471 730h1M475 730h1M459 731h2M462 731h1M467 731h1M469 731h3M474 731h1M456 732h3M461 732h2M467 732h1M470 732h4M455 733h1M457 733h1M462 733h2M466 733h1M468 733h1M471 733h1M454 734h1M457 734h1M462 734h5M469 734h2M454 735h1M456 735h1M458 735h1M461 735h1M463 735h1M465 735h2M455 736h1M459 736h2M463 736h1M466 736h1M454 737h2M458 737h3M462 737h1M466 737h1M453 738h1M456 738h2M460 738h3M465 738h1M452 739h2M456 739h1M461 739h1M463 739h2M453 740h2M456 740h1M461 740h2M454 741h4M460 741h1M454 742h2M458 742h2M453 743h2M459 743h1M452 744h1M454 744h1M459 744h1M455 745h1M458 745h1M456 746h2M452 748h1M453 749h1M453 750h1M452 751h1"/>
<rect x="451.5" y="633.5" width="149" height="149" fill="none" stroke="#000"/>
<line x1="446" y1="636.5" x2="451" y2="636.5" stroke="#000" stroke-width="1"/>
<line x1="446" y1="665.5" x2="451" y2="665.5" stroke="#000" stroke-width="1"/>
<text x="441" y="671" font-size="16" font-weight="normal" font-family="'Liberation Sans', sans-serif" text-anchor="end" >-10</text>
<line x1="446" y1="694.5" x2="451" y2="694.5" stroke="#000" stroke-width="1"/>
<text x="441" y="700" font-size="16" font-weight="normal" font-family="'Liberation Sans', sans-serif" text-anchor="end" >-20</text>
<line x1="446" y1="724.5" x2="451" y2="724.5" stroke="#000" stroke-width="1"/>
<text x="441" y="730" font-size="16" font-weight="normal" font-family="'Liberation Sans', sans-serif" text-anchor="end" >-30</text>
<line x1="446" y1="753.5" x2="451" y2="753.5" stroke="#000" stroke-width="1"/>
<text x="441" y="759" font-size="16" font-weight="normal" font-family="'Liberation Sans', sans-serif" text-anchor="end" >-40</text>
<line x1="446" y1="633.5" x2="451" y2="633.5" stroke="#000" stroke-width="1"/>
<line x1="446" y1="782.5" x2="451" y2="782.5" stroke="#000" stroke-width="1"/>
<line x1="451.5" y1="782" x2="451.5" y2="788" stroke="#000" stroke-width="1"/>
<line x1="480.5" y1="782" x2="480.5" y2="788" stroke="#000" stroke-width="1"/>
<text x="478.5" y="803" font-size="16" font-weight="normal" font-family="'Liberation Sans', sans-serif" text-anchor="middle" >-40</text>
<line x1="509.5" y1="782" x2="509.5" y2="788" stroke="#000" stroke-width="1"/>
<text x="507.5" y="803" font-size="16" font-weight="normal" font-family="'Liberation Sans', sans-serif" text-anchor="middle" >-30</text>
<line x1="539.5" y1="782" x2="539.5" y2="788" stroke="#000" stroke-width="1"/>
<text x="537.5" y="803" font-size="16" font-weight="normal" font-family="'Liberation Sans', sans-serif" text-anchor="middle" >-20</text>
<line x1="568.5" y1="782" x2="568.5" y2="788" stroke="#000" stroke-width="1"/>
<line x1="597.5" y1="782" x2="597.5" y2="788" stroke="#000" stroke-width="1"/>
<line x1="600.5" y1="782" x2="600.5" y2="788" stroke="#000" stroke-width="1"/>
<text x="601" y="803" font-size="16" font-weight="normal" font-family="'Liberation Sans', sans-serif" text-anchor="end" >dBFS</text>
<text x="55.0" y="826" font-size="16" font-weight="normal" font-family="'Liberation Sans', sans-serif" text-anchor="start" textLength="194.3" lengthAdjust="spacingAndGlyphs">Short term (1 s) crest factor</text>
<text x="280" y="826" font-size="16" font-weight="normal" font-family="'Liberation Sans', sans-serif" text-anchor="start" textLength="139.5" lengthAdjust="spacingAndGlyphs">Checksum (energy):</text>
<text x="429.0" y="826" font-size="16" font-weight="normal" font-family="'Liberation Sans', sans-serif" text-anchor="start" textLength="171.8" lengthAdjust="spacingAndGlyphs">24 977 600 520 544 049</text>
<text x="4" y="847" font-size="16" font-weight="normal" font-family="'Liberation Sans', sans-serif" text-anchor="start" >dB</text>
<path transform="translate(0,0.5)" fill="none" stroke="#fff" d="M567 835h2M566 836h4M566 837h4M567 838h2M568 843h2M410 844h2M567 844h4M592 844h2M409 845h4M567 845h4M591 845h4M343 846h2M409 846h4M568 846h2M591 846h4M342 847h4M356 847h2M592 847h2M342 848h4M355 848h4M408 848h1M410 848h2M343 849h2M355 849h4M409 849h4M356 850h2M409 850h4M451 850h2M450 851h4M577 851h2M408 852h1M410 852h2M450 852h4M576 852h4M409 853h4M451 853h2M576 853h4M356 854h2M409 854h4M568 854h2M577 854h2M355 855h4M410 855h2M413 855h1M567 855h4M294 856h2M355 856h4M408 856h2M413 856h1M567 856h4M576 856h2M293 857h4M408 857h4M414 857h2M568 857h2M571 857h2M575 857h4M293 858h4M325 858h2M356 858h2M413 858h3M570 858h4M575 858h3M579 858h2M595 858h2M324 859h4M343 859h2M355 859h4M409 859h2M414 859h1M570 859h4M576 859h1M578 859h4M594 859h3M211 860h2M294 860h2M324 860h4M330 860h2M342 860h4M355 860h4M408 860h4M413 860h1M571 860h2M578 860h4M594 860h2M597 860h2M210 861h4M293 861h4M325 861h2M329 861h4M342 861h1M345 861h1M408 861h4M413 861h2M579 861h2M596 861h4M210 862h4M293 862h4M329 862h4M343 862h2M356 862h2M369 862h2M409 862h2M412 862h3M573 862h1M596 862h4M211 863h2M325 863h2M330 863h2M342 863h4M355 863h4M368 863h4M412 863h2M572 863h1M594 863h2M597 863h2M203 864h2M294 864h2M324 864h1M328 864h2M342 864h4M355 864h4M368 864h4M411 864h1M594 864h1M172 865h2M202 865h4M293 865h4M328 865h4M343 865h2M356 865h2M369 865h2M401 865h2M569 865h1M592 865h1M595 865h2M143 866h2M171 866h4M202 866h4M293 866h4M329 866h2M400 866h4M410 866h1M481 866h2M568 866h2M592 866h1M594 866h4M61 867h2M82 867h2M142 867h4M171 867h4M203 867h2M294 867h2M326 867h1M370 867h2M381 867h2M400 867h4M410 867h1M413 867h1M480 867h4M568 867h1M580 867h1M594 867h2M60 868h4M81 868h4M132 868h2M142 868h4M172 868h2M232 868h1M248 868h2M296 868h1M325 868h1M327 868h2M369 868h4M380 868h4M401 868h2M409 868h1M412 868h1M451 868h2M480 868h4M523 868h2M569 868h1M573 868h4M579 868h1M596 868h2M60 869h4M81 869h4M112 869h2M131 869h4M136 869h2M143 869h2M211 869h1M231 869h1M233 869h2M247 869h4M294 869h4M326 869h3M330 869h2M369 869h4M380 869h4M450 869h4M481 869h2M522 869h4M573 869h3M583 869h2M595 869h2M61 870h2M82 870h2M111 870h4M131 870h3M135 870h4M210 870h1M212 870h2M232 870h4M247 870h4M294 870h4M324 870h1M326 870h2M329 870h4M356 870h2M381 870h2M411 870h1M450 870h4M522 870h4M567 870h1M582 870h4M595 870h1M597 870h2M59 871h2M111 871h4M132 871h2M135 871h4M211 871h4M232 871h4M248 871h2M295 871h2M329 871h4M355 871h2M402 871h2M451 871h2M523 871h2M567 871h1M582 871h4M596 871h4M59 872h4M112 872h2M136 872h2M194 872h2M211 872h1M233 872h2M328 872h1M330 872h2M355 872h1M367 872h1M461 872h2M568 872h1M583 872h2M593 872h2M596 872h4M60 873h2M142 873h2M188 873h2M193 873h4M210 873h1M294 873h1M328 873h2M344 873h2M367 873h1M403 873h1M411 873h1M413 873h1M416 873h1M428 873h1M431 873h2M460 873h4M567 873h1M576 873h1M592 873h2M597 873h2M141 874h4M164 874h2M187 874h4M193 874h1M196 874h1M248 874h2M260 874h2M293 874h1M329 874h1M343 874h4M366 874h1M402 874h1M406 874h1M412 874h1M414 874h2M430 874h1M433 874h1M460 874h4M478 874h1M571 874h1M575 874h3M592 874h1M594 874h1M596 874h1M61 875h2M111 875h2M141 875h2M163 875h4M187 875h4M197 875h1M247 875h1M259 875h4M328 875h1M330 875h2M333 875h1M340 875h2M343 875h4M362 875h1M368 875h2M382 875h2M405 875h1M407 875h1M413 875h2M462 875h1M478 875h1M487 875h2M575 875h2M591 875h1M594 875h2M58 876h1M60 876h1M110 876h1M113 876h1M133 876h2M143 876h2M163 876h4M188 876h2M201 876h1M213 876h2M233 876h2M259 876h1M262 876h1M292 876h1M329 876h4M335 876h2M339 876h4M354 876h1M368 876h1M376 876h1M381 876h4M396 876h1M407 876h1M413 876h1M416 876h1M456 876h1M458 876h1M488 876h2M493 876h2M498 876h2M567 876h1M569 876h1M576 876h1M583 876h2M591 876h1M593 876h1M595 876h1M598 876h2M82 877h2M108 877h1M132 877h3M136 877h1M142 877h4M164 877h2M187 877h1M190 877h1M212 877h2M217 877h2M232 877h2M329 877h3M334 877h4M339 877h4M344 877h2M351 877h2M360 877h1M373 877h1M378 877h1M402 877h1M406 877h1M415 877h1M417 877h2M455 877h1M457 877h1M477 877h2M482 877h1M489 877h1M492 877h2M495 877h1M497 877h4M534 877h2M570 877h1M575 877h1M582 877h4M594 877h1M597 877h3M81 878h1M107 878h2M130 878h1M132 878h2M135 878h1M137 878h2M142 878h4M194 878h2M204 878h2M212 878h1M216 878h4M227 878h1M232 878h1M234 878h1M261 878h2M323 878h1M328 878h1M334 878h4M340 878h2M343 878h4M350 878h3M355 878h1M359 878h1M361 878h1M372 878h1M379 878h1M382 878h2M391 878h2M406 878h1M416 878h4M421 878h1M432 878h2M449 878h2M455 878h1M457 878h1M476 878h2M481 878h1M492 878h1M494 878h2M497 878h2M533 878h4M569 878h1M573 878h1M582 878h1M585 878h1M597 878h2M54 879h1M58 879h1M107 879h1M112 879h2M131 879h1M133 879h1M136 879h3M191 879h1M193 879h3M203 879h4M216 879h2M220 879h2M226 879h1M233 879h1M241 879h1M244 879h1M260 879h1M263 879h1M291 879h1M333 879h1M335 879h1M343 879h2M350 879h1M359 879h1M361 879h1M381 879h1M384 879h1M386 879h1M390 879h3M416 879h3M420 879h1M431 879h4M448 879h4M470 879h1M476 879h1M487 879h2M491 879h1M494 879h1M499 879h2M522 879h2M533 879h4M572 879h1M583 879h2M599 879h1M100 880h1M103 880h1M109 880h1M111 880h4M131 880h1M136 880h1M141 880h1M143 880h2M154 880h1M164 880h2M168 880h1M193 880h2M203 880h1M208 880h1M215 880h1M219 880h1M227 880h1M240 880h1M243 880h1M246 880h1M261 880h2M307 880h1M310 880h1M324 880h1M336 880h2M351 880h1M355 880h1M390 880h2M404 880h1M408 880h1M411 880h2M417 880h1M422 880h1M431 880h3M442 880h1M448 880h3M468 880h1M473 880h1M480 880h1M486 880h1M492 880h1M498 880h4M521 880h4M532 880h1M566 880h1M575 880h1M577 880h1M582 880h4M598 880h2M65 881h2M68 881h1M93 881h1M99 881h1M102 881h1M111 881h1M114 881h1M132 881h1M135 881h1M142 881h2M150 881h2M163 881h2M173 881h2M195 881h1M200 881h1M208 881h2M217 881h1M220 881h1M227 881h1M260 881h3M294 881h1M296 881h1M306 881h1M309 881h1M319 881h2M324 881h1M335 881h2M350 881h1M378 881h1M400 881h1M404 881h1M408 881h1M411 881h3M421 881h1M441 881h1M449 881h2M480 881h1M498 881h2M521 881h1M524 881h1M527 881h1M536 881h1M539 881h1M567 881h1M582 881h4M588 881h1M598 881h2M57 882h1M64 882h1M84 882h1M92 882h1M99 882h1M102 882h1M134 882h1M142 882h1M149 882h2M156 882h1M163 882h1M165 882h2M170 882h1M172 882h4M194 882h1M219 882h1M221 882h1M237 882h1M260 882h1M294 882h1M307 882h1M309 882h1M318 882h2M322 882h1M325 882h1M335 882h1M342 882h1M377 882h1M386 882h1M389 882h1M400 882h1M409 882h1M412 882h1M416 882h1M421 882h1M454 882h1M488 882h1M526 882h2M535 882h1M540 882h1M577 882h1M583 882h1M587 882h2M599 882h1M58 883h1M69 883h1M112 883h2M129 883h1M149 883h1M155 883h2M164 883h2M172 883h4M183 883h1M195 883h1M206 883h1M214 883h1M222 883h1M268 883h1M274 883h2M318 883h1M322 883h2M327 883h1M332 883h1M342 883h2M357 883h1M363 883h1M380 883h1M385 883h1M414 883h1M444 883h1M450 883h1M487 883h1M526 883h1M543 883h1M548 883h1M552 883h2M562 883h1M578 883h1M582 883h1M587 883h1M598 883h1M58 884h2M61 884h1M68 884h1M111 884h1M118 884h1M140 884h1M155 884h1M164 884h1M168 884h1M182 884h1M194 884h1M256 884h1M267 884h1M270 884h1M273 884h3M277 884h1M292 884h2M298 884h1M323 884h1M339 884h1M358 884h1M383 884h1M396 884h1M427 884h1M439 884h1M443 884h1M466 884h1M513 884h1M539 884h1M542 884h1M547 884h1M551 884h1M561 884h1M578 884h2M595 884h1M599 884h1M59 885h1M61 885h1M112 885h1M141 885h1M144 885h1M194 885h1M200 885h2M222 885h1M230 885h1M239 885h1M255 885h1M269 885h1M273 885h2M276 885h1M292 885h1M295 885h1M321 885h1M328 885h1M339 885h1M352 885h1M373 885h1M382 885h1M394 885h1M396 885h2M421 885h1M423 885h1M434 885h1M470 885h1M475 885h1M538 885h1M558 885h1M579 885h1M596 885h1M57 886h2M62 886h1M109 886h1M111 886h1M140 886h1M198 886h1M200 886h1M202 886h1M231 886h1M247 886h1M282 886h1M295 886h1M321 886h1M328 886h1M360 886h1M362 886h1M378 886h1M394 886h2M397 886h2M407 886h1M410 886h1M414 886h1M421 886h1M423 886h1M425 886h1M428 886h1M454 886h1M471 886h1M475 886h2M480 886h2M505 886h1M557 886h1M564 886h1M589 886h1M591 886h1M594 886h1M596 886h2M57 887h4M70 887h1M78 887h1M100 887h1M103 887h1M109 887h1M141 887h1M198 887h2M217 887h1M239 887h1M281 887h1M361 887h1M363 887h2M374 887h1M393 887h1M395 887h2M399 887h2M407 887h4M425 887h1M428 887h2M449 887h1M454 887h4M460 887h2M476 887h2M480 887h2M506 887h1M527 887h1M531 887h1M565 887h1M587 887h1M591 887h4M599 887h1M58 888h2M62 888h1M83 888h1M97 888h1M104 888h1M110 888h1M130 888h2M134 888h1M148 888h1M153 888h1M167 888h1M170 888h1M185 888h4M199 888h2M202 888h1M206 888h2M223 888h1M225 888h1M239 888h3M245 888h1M291 888h1M296 888h1M327 888h1M338 888h1M349 888h1M360 888h3M365 888h1M370 888h2M374 888h1M377 888h1M394 888h1M398 888h2M408 888h2M415 888h1M423 888h1M427 888h1M429 888h1M447 888h1M455 888h2M467 888h2M490 888h1M526 888h1M532 888h1M534 888h1M565 888h2M592 888h2M598 888h2M70 889h1M79 889h1M84 889h1M97 889h1M104 889h2M127 889h1M130 889h2M134 889h2M146 889h1M153 889h1M158 889h1M169 889h1M185 889h4M192 889h1M202 889h1M206 889h4M223 889h2M240 889h2M246 889h1M266 889h1M278 889h1M291 889h2M297 889h1M350 889h1M352 889h1M356 889h2M360 889h4M365 889h1M370 889h4M375 889h1M380 889h1M392 889h1M415 889h1M422 889h1M424 889h2M428 889h1M491 889h1M500 889h1M527 889h1M547 889h1M566 889h2M578 889h2M581 889h1M598 889h2M54 890h1M71 890h2M98 890h1M105 890h2M128 890h1M133 890h1M135 890h2M147 890h1M154 890h1M161 890h1M164 890h1M170 890h1M174 890h1M186 890h2M190 890h1M192 890h3M203 890h1M207 890h2M224 890h2M228 890h1M231 890h1M251 890h1M256 890h1M267 890h1M278 890h2M285 890h1M292 890h2M295 890h1M352 890h2M355 890h4M361 890h2M371 890h2M374 890h1M379 890h2M385 890h1M388 890h1M393 890h1M422 890h2M427 890h1M490 890h1M501 890h1M517 890h1M526 890h1M548 890h1M577 890h4M599 890h1M66 891h1M88 891h2M107 891h1M132 891h1M134 891h1M143 891h1M146 891h1M149 891h1M162 891h2M165 891h1M177 891h1M185 891h1M189 891h1M191 891h1M193 891h2M205 891h1M218 891h1M229 891h2M244 891h1M251 891h2M256 891h2M270 891h1M279 891h1M282 891h1M286 891h1M296 891h2M299 891h1M315 891h1M353 891h1M355 891h4M363 891h2M375 891h1M379 891h3M385 891h2M388 891h4M423 891h2M449 891h1M491 891h2M518 891h1M527 891h2M577 891h4M70 892h1M133 892h1M136 892h2M139 892h2M144 892h2M147 892h2M164 892h1M178 892h1M186 892h2M190 892h1M206 892h1M219 892h2M245 892h1M252 892h2M257 892h2M271 892h1M283 892h1M298 892h1M316 892h1M350 892h1M356 892h2M380 892h2M386 892h2M389 892h2M450 892h1M453 892h1M543 892h2M578 892h2M247 893h1M591 893h2M246 894h1M248 894h2M589 894h4M247 895h4M590 895h2M247 896h4M248 897h2"/>
<path transform="translate(0,0.5)" fill="none" stroke="#000" d="M58 860h3M64 860h3M70 860h3M76 860h3M82 860h3M88 860h3M94 860h3M100 860h3M106 860h3M112 860h3M118 860h3M124 860h3M130 860h3M136 860h3M142 860h3M148 860h3M154 860h3M160 860h3M166 860h3M172 860h3M178 860h3M184 860h3M190 860h3M196 860h3M202 860h3M208 860h2M214 860h3M220 860h3M226 860h3M232 860h3M238 860h3M244 860h3M250 860h3M256 860h3M262 860h3M268 860h3M274 860h3M280 860h3M286 860h3M292 860h1M298 860h3M304 860h3M310 860h3M316 860h3M322 860h1M334 860h3M340 860h1M347 860h2M352 860h2M360 860h1M364 860h3M370 860h3M376 860h3M382 860h3M388 860h3M394 860h3M400 860h3M406 860h1M418 860h3M424 860h3M430 860h3M436 860h3M442 860h3M448 860h3M454 860h3M460 860h3M466 860h3M472 860h3M478 860h3M484 860h3M490 860h3M496 860h3M502 860h3M508 860h3M514 860h3M520 860h3M526 860h3M532 860h3M538 860h3M544 860h3M550 860h3M556 860h3M562 860h3M575 860h1M586 860h3M592 860h1M401 888h2M412 888h2M462 888h1M473 888h2M570 888h1M574 888h2"/>
<path transform="translate(0,0.5)" fill="none" stroke="#0000ff" d="M413 848h1M453 849h1M454 850h1M577 850h2M413 851h1M455 851h1M576 851h1M579 851h1M413 852h1M455 852h1M575 852h1M580 852h1M454 853h1M568 853h2M575 853h1M580 853h1M453 854h1M567 854h1M570 854h1M576 854h1M579 854h1M566 855h1M571 855h1M578 855h1M415 856h1M566 856h1M325 857h2M416 857h1M567 857h1M324 858h1M327 858h1M416 858h1M568 858h1M323 859h1M328 859h1M330 859h2M415 859h1M323 860h1M328 860h2M332 860h1M324 861h1M327 861h2M333 861h1M369 861h2M325 862h2M328 862h1M333 862h1M368 862h1M371 862h1M594 862h1M324 863h1M327 863h3M332 863h1M367 863h1M372 863h1M566 863h1M593 863h1M172 864h2M323 864h1M327 864h1M330 864h3M367 864h1M372 864h1M401 864h2M415 864h1M481 864h2M566 864h1M592 864h2M61 865h2M143 865h2M171 865h1M174 865h1M323 865h1M332 865h1M368 865h1M371 865h1M400 865h1M403 865h1M480 865h1M483 865h1M566 865h1M591 865h1M593 865h1M598 865h1M60 866h1M63 866h1M142 866h1M145 866h1M170 866h1M175 866h1M331 866h1M381 866h2M399 866h1M404 866h1M479 866h1M484 866h1M566 866h1M591 866h1M59 867h1M64 867h1M141 867h1M146 867h1M170 867h1M175 867h1M232 867h2M297 867h1M329 867h2M380 867h1M383 867h1M399 867h1M404 867h1M407 867h1M566 867h1M577 867h2M592 867h1M112 868h2M141 868h1M146 868h1M171 868h1M174 868h1M211 868h2M231 868h1M233 868h2M298 868h1M379 868h1M384 868h1M400 868h1M403 868h1M111 869h1M114 869h1M142 869h1M145 869h1M172 869h2M210 869h1M230 869h1M232 869h1M235 869h1M323 869h1M379 869h1M384 869h1M400 869h3M110 870h1M115 870h1M143 870h2M209 870h1M230 870h2M236 870h1M322 870h1M380 870h1M383 870h1M401 870h3M110 871h1M115 871h1M194 871h2M209 871h1M231 871h1M236 871h1M322 871h1M381 871h2M404 871h1M461 871h2M111 872h1M114 872h1M193 872h1M196 872h1M232 872h1M235 872h1M291 872h1M405 872h1M407 872h1M417 872h1M428 872h3M460 872h1M463 872h1M565 872h1M64 873h1M112 873h2M192 873h1M197 873h1M247 873h1M250 873h1M260 873h2M291 873h1M333 873h1M342 873h1M417 873h1M427 873h1M429 873h1M459 873h1M464 873h1M564 873h1M64 874h1M192 874h1M194 874h2M197 874h3M246 874h1M251 874h1M259 874h1M262 874h1M291 874h1M298 874h1M333 874h1M362 874h2M373 874h1M382 874h2M417 874h1M426 874h1M459 874h1M464 874h1M487 874h2M564 874h1M64 875h1M146 875h1M185 875h1M193 875h1M196 875h1M198 875h1M258 875h1M263 875h1M321 875h1M361 875h1M373 875h2M376 875h2M381 875h1M384 875h1M463 875h1M472 875h1M486 875h1M489 875h1M492 875h1M495 875h2M565 875h1M82 876h2M130 876h1M140 876h1M146 876h1M185 876h2M191 876h2M197 876h2M220 876h2M252 876h1M258 876h1M263 876h1M321 876h1M375 876h1M377 876h2M380 876h1M385 876h1M390 876h2M421 876h2M469 876h3M490 876h2M533 876h1M81 877h1M84 877h1M106 877h1M185 877h1M220 877h3M243 877h1M290 877h1M379 877h2M384 877h2M389 877h2M420 877h1M435 877h1M468 877h1M490 877h1M532 877h1M589 877h1M80 878h1M222 878h2M308 878h1M385 878h5M435 878h1M464 878h1M522 878h2M72 879h1M154 879h2M168 879h2M223 879h1M309 879h1M338 879h1M348 879h1M387 879h2M444 879h1M521 879h1M524 879h1M68 880h2M71 880h1M129 880h1M148 880h1M153 880h1M167 880h1M253 880h1M388 880h1M439 880h2M445 880h1M516 880h1M520 880h1M525 880h2M538 880h2M69 881h2M185 881h1M253 881h1M291 881h1M446 881h1M520 881h1M525 881h1M540 881h1M563 881h1M290 882h2M447 882h1M541 882h1M550 882h1M118 883h2M289 883h2M117 884h1M121 884h2M179 884h1M284 884h2M288 884h2M481 885h1M211 887h1M368 887h2M412 887h1M459 887h1M473 887h2M479 887h1M482 887h1M570 887h1M61 888h1M211 888h1M366 888h3M400 888h1M405 888h1M411 888h1M460 888h2M466 888h1M469 888h1M472 888h1M475 888h1M478 888h4M509 888h2M581 888h1M595 888h1M62 889h2M214 889h2M300 889h1M327 889h1M366 889h1M397 889h3M406 889h1M410 889h1M464 889h5M509 889h3M64 890h1M142 890h1M216 890h2M238 890h1M242 890h2M300 890h2M364 890h3M396 890h1M407 890h2M497 890h1M54 891h1M65 891h1M67 891h1M73 891h1M85 891h3M90 891h1M93 891h2M108 891h1M137 891h1M141 891h2M210 891h1M217 891h1M221 891h3M239 891h2M243 891h1M248 891h1M261 891h1M300 891h1M302 891h1M307 891h1M316 891h1M365 891h1M374 891h1M395 891h1M427 891h1M454 891h2M497 891h2M536 891h1M545 891h3M567 891h1M66 892h2M69 892h1M71 892h2M81 892h1M84 892h1M88 892h2M94 892h2M100 892h1M106 892h2M127 892h3M131 892h1M138 892h1M141 892h1M143 892h1M150 892h1M156 892h1M184 892h1M195 892h1M209 892h1M218 892h1M221 892h1M223 892h4M244 892h1M246 892h4M255 892h1M299 892h1M303 892h1M313 892h3M317 892h2M321 892h2M363 892h2M375 892h2M393 892h2M421 892h1M426 892h1M440 892h1M443 892h1M454 892h1M498 892h2M529 892h1M537 892h1M545 892h1M548 892h4M554 892h1M566 892h1M581 892h2M592 892h1M70 893h2M82 893h2M95 893h2M99 893h1M112 893h1M118 893h2M122 893h1M135 893h3M139 893h2M144 893h2M157 893h1M160 893h1M162 893h4M180 893h1M192 893h2M196 893h1M208 893h1M219 893h2M245 893h2M248 893h4M273 893h5M279 893h3M297 893h2M316 893h2M344 893h1M349 893h2M354 893h2M382 893h2M388 893h1M425 893h1M441 893h2M452 893h2M499 893h2M520 893h1M530 893h1M542 893h3M555 893h5M563 893h3M580 893h2M593 893h1M245 894h1M247 894h1M250 894h1M588 894h1M593 894h1M245 895h2M251 895h1M589 895h1M592 895h1M246 896h1M251 896h1M590 896h2M247 897h1M250 897h1M248 898h2"/>
<path transform="translate(0,0.5)" fill="none" stroke="#ff0000" d="M567 834h2M566 835h1M569 835h1M565 836h1M570 836h1M565 837h1M570 837h1M566 838h1M569 838h1M567 839h2M568 842h2M409 843h3M567 843h1M570 843h1M592 843h2M408 844h2M412 844h1M566 844h1M571 844h1M591 844h1M594 844h1M343 845h2M407 845h2M413 845h1M566 845h1M571 845h1M590 845h1M595 845h1M342 846h1M345 846h1M356 846h2M407 846h2M413 846h1M567 846h1M570 846h1M590 846h1M595 846h1M341 847h1M346 847h1M355 847h1M358 847h1M408 847h5M568 847h2M591 847h1M594 847h1M341 848h1M346 848h1M354 848h1M359 848h1M407 848h1M409 848h1M412 848h1M592 848h2M342 849h1M345 849h1M354 849h1M359 849h1M407 849h2M413 849h1M451 849h2M343 850h2M355 850h1M358 850h1M408 850h1M413 850h1M450 850h1M453 850h1M356 851h2M408 851h5M449 851h1M454 851h1M407 852h1M409 852h1M412 852h1M449 852h1M454 852h1M356 853h2M407 853h2M413 853h1M450 853h1M453 853h1M355 854h1M358 854h1M408 854h1M413 854h1M451 854h2M294 855h2M354 855h1M359 855h1M408 855h2M412 855h1M414 855h1M576 855h2M293 856h1M296 856h1M354 856h1M359 856h1M407 856h1M410 856h3M414 856h1M571 856h2M575 856h1M578 856h1M292 857h1M297 857h1M355 857h4M407 857h1M412 857h2M570 857h1M573 857h2M579 857h2M595 857h2M292 858h1M297 858h1M343 858h2M355 858h1M358 858h1M408 858h5M569 858h1M574 858h1M578 858h1M581 858h1M594 858h1M597 858h1M211 859h2M293 859h4M342 859h1M345 859h1M354 859h1M359 859h1M408 859h1M411 859h3M569 859h1M574 859h2M577 859h1M582 859h1M593 859h1M597 859h2M210 860h1M213 860h1M293 860h1M296 860h1M341 860h1M346 860h1M354 860h1M359 860h1M407 860h1M412 860h1M414 860h1M568 860h3M573 860h2M576 860h2M582 860h1M593 860h1M596 860h1M599 860h1M209 861h1M214 861h1M292 861h1M297 861h1M341 861h1M343 861h2M346 861h1M355 861h4M407 861h1M412 861h1M415 861h1M567 861h9M578 861h1M581 861h1M594 861h2M209 862h1M214 862h1M292 862h1M297 862h1M342 862h1M345 862h1M355 862h1M358 862h1M407 862h2M411 862h1M415 862h1M567 862h6M574 862h3M579 862h2M595 862h1M203 863h2M210 863h1M213 863h1M292 863h6M341 863h1M346 863h1M354 863h1M359 863h1M408 863h4M414 863h1M567 863h5M573 863h4M596 863h1M599 863h1M202 864h1M205 864h1M211 864h2M292 864h2M296 864h2M325 864h2M341 864h1M346 864h1M354 864h1M359 864h1M407 864h4M412 864h3M567 864h11M595 864h4M201 865h1M206 865h1M292 865h1M297 865h1M324 865h4M342 865h1M345 865h1M355 865h1M358 865h1M407 865h9M481 865h2M567 865h2M570 865h8M594 865h1M597 865h1M61 866h2M82 866h2M201 866h1M206 866h1M292 866h1M297 866h1M323 866h6M343 866h2M356 866h2M369 866h3M408 866h2M411 866h6M480 866h1M483 866h1M567 866h1M570 866h7M580 866h2M593 866h1M598 866h1M60 867h1M63 867h1M81 867h1M84 867h1M132 867h2M202 867h1M205 867h1M248 867h2M293 867h1M296 867h1M323 867h3M327 867h2M368 867h2M372 867h1M408 867h2M411 867h2M414 867h3M451 867h2M479 867h1M484 867h1M523 867h2M567 867h1M569 867h8M579 867h1M581 867h2M593 867h1M596 867h3M59 868h1M64 868h1M80 868h1M85 868h1M131 868h1M134 868h1M136 868h2M203 868h2M247 868h1M250 868h1M293 868h3M297 868h1M324 868h1M326 868h1M329 868h3M367 868h2M373 868h1M407 868h2M410 868h2M413 868h4M450 868h1M453 868h1M479 868h1M484 868h1M522 868h1M525 868h1M567 868h2M570 868h3M577 868h2M580 868h5M593 868h3M598 868h1M59 869h1M64 869h1M80 869h1M85 869h1M130 869h1M135 869h1M138 869h1M212 869h2M246 869h1M251 869h1M292 869h2M298 869h1M324 869h2M329 869h1M332 869h1M356 869h2M367 869h2M373 869h1M407 869h11M449 869h1M454 869h1M480 869h1M483 869h1M521 869h1M526 869h1M567 869h6M576 869h7M585 869h1M591 869h2M594 869h1M597 869h3M59 870h2M63 870h1M81 870h1M84 870h1M130 870h1M134 870h1M139 870h1M211 870h1M214 870h1M246 870h1M251 870h1M291 870h3M298 870h1M323 870h1M325 870h1M328 870h1M333 870h1M355 870h1M358 870h1M368 870h6M399 870h2M408 870h3M412 870h6M449 870h1M454 870h1M481 870h2M521 870h1M526 870h1M566 870h1M568 870h14M586 870h1M590 870h5M596 870h1M599 870h1M58 871h1M61 871h3M82 871h2M131 871h1M134 871h1M139 871h1M210 871h1M215 871h1M247 871h1M250 871h1M291 871h4M297 871h1M323 871h6M333 871h1M354 871h1M357 871h3M367 871h7M398 871h4M408 871h10M450 871h1M453 871h1M479 871h5M522 871h1M525 871h1M566 871h1M568 871h14M586 871h1M589 871h7M58 872h1M63 872h1M131 872h5M138 872h1M142 872h2M188 872h2M209 872h2M212 872h4M248 872h2M292 872h5M323 872h5M329 872h1M332 872h1M344 872h2M354 872h1M356 872h5M366 872h1M368 872h6M397 872h8M408 872h9M431 872h2M451 872h2M478 872h7M523 872h2M566 872h2M569 872h14M585 872h2M589 872h4M595 872h1M58 873h2M62 873h2M130 873h8M141 873h1M144 873h1M164 873h2M187 873h1M190 873h1M201 873h5M208 873h2M211 873h5M232 873h3M248 873h2M292 873h2M295 873h3M323 873h5M330 873h3M343 873h1M346 873h1M354 873h8M365 873h2M368 873h6M397 873h6M404 873h7M412 873h1M414 873h2M430 873h1M433 873h1M477 873h8M565 873h2M568 873h8M577 873h9M590 873h2M594 873h3M599 873h1M58 874h6M111 874h2M130 874h6M140 874h1M145 874h1M163 874h1M166 874h1M186 874h1M191 874h1M200 874h7M208 874h9M231 874h5M247 874h1M250 874h1M292 874h1M294 874h4M322 874h7M330 874h3M340 874h3M347 874h1M353 874h9M364 874h2M367 874h6M396 874h6M403 874h3M407 874h5M413 874h1M416 874h1M427 874h3M431 874h2M434 874h1M477 874h1M479 874h6M565 874h6M572 874h3M578 874h7M591 874h1M593 874h1M595 874h1M597 874h3M56 875h5M63 875h1M110 875h1M113 875h1M131 875h4M140 875h1M143 875h3M162 875h1M167 875h1M186 875h1M191 875h1M194 875h2M199 875h19M230 875h7M246 875h1M248 875h4M291 875h8M322 875h6M329 875h1M332 875h1M334 875h3M339 875h1M342 875h1M347 875h1M353 875h8M363 875h5M370 875h3M395 875h10M406 875h1M408 875h5M415 875h3M425 875h10M456 875h6M473 875h2M477 875h1M479 875h7M493 875h2M498 875h2M566 875h9M577 875h8M590 875h1M592 875h2M596 875h4M55 876h3M59 876h1M61 876h4M102 876h2M108 876h2M111 876h2M114 876h1M131 876h2M135 876h3M141 876h2M145 876h1M162 876h1M167 876h1M187 876h1M190 876h1M193 876h4M199 876h2M202 876h11M215 876h4M230 876h3M235 876h2M246 876h6M260 876h2M291 876h1M293 876h6M322 876h7M333 876h2M337 876h2M343 876h4M351 876h3M355 876h13M369 876h6M394 876h2M397 876h10M408 876h5M414 876h2M417 876h2M424 876h11M455 876h1M457 876h1M459 876h4M472 876h16M492 876h1M495 876h3M500 876h1M534 876h2M565 876h2M568 876h1M570 876h6M577 876h6M585 876h1M590 876h1M592 876h1M594 876h1M596 876h2M54 877h12M101 877h4M107 877h1M109 877h6M130 877h2M135 877h1M137 877h2M141 877h1M146 877h1M161 877h3M166 877h1M172 877h2M186 877h1M188 877h2M191 877h21M214 877h3M219 877h1M226 877h6M234 877h3M244 877h9M259 877h4M291 877h13M305 877h2M322 877h7M332 877h2M338 877h1M343 877h1M346 877h1M350 877h1M353 877h7M361 877h12M374 877h4M381 877h3M391 877h2M394 877h8M403 877h3M407 877h8M416 877h1M419 877h1M421 877h14M449 877h2M454 877h1M456 877h1M458 877h6M466 877h2M469 877h8M479 877h3M483 877h6M491 877h1M494 877h1M496 877h1M501 877h1M529 877h2M533 877h1M536 877h1M564 877h6M571 877h4M576 877h6M586 877h1M590 877h4M595 877h2M54 878h13M77 878h3M82 878h4M99 878h8M109 878h6M129 878h1M131 878h1M134 878h1M136 878h1M139 878h3M146 878h1M160 878h7M171 878h4M185 878h9M196 878h8M206 878h6M213 878h3M220 878h2M225 878h2M228 878h4M233 878h1M235 878h18M258 878h3M263 878h1M290 878h18M321 878h2M324 878h4M329 878h5M338 878h2M342 878h1M347 878h1M349 878h1M353 878h2M356 878h3M360 878h1M362 878h10M373 878h6M380 878h2M384 878h1M390 878h1M393 878h13M407 878h9M420 878h1M422 878h10M434 878h1M448 878h1M451 878h1M453 878h2M456 878h1M458 878h6M465 878h11M478 878h3M482 878h10M493 878h1M496 878h1M499 878h3M504 878h4M528 878h5M537 878h1M564 878h5M570 878h3M574 878h8M583 878h2M586 878h1M589 878h8M599 878h1M55 879h3M59 879h9M73 879h16M98 879h9M108 879h4M114 879h1M129 879h2M132 879h1M134 879h2M139 879h8M159 879h8M170 879h6M185 879h6M192 879h1M196 879h7M207 879h9M218 879h2M222 879h1M224 879h2M227 879h6M234 879h7M242 879h2M245 879h8M258 879h2M261 879h2M264 879h1M290 879h1M292 879h17M310 879h4M316 879h2M321 879h12M334 879h1M336 879h2M339 879h4M345 879h3M349 879h1M351 879h8M360 879h1M362 879h19M382 879h2M385 879h1M389 879h1M393 879h23M419 879h1M421 879h10M435 879h1M442 879h2M447 879h1M452 879h18M471 879h5M477 879h10M489 879h2M492 879h2M495 879h4M501 879h1M503 879h8M527 879h6M537 879h1M563 879h9M573 879h10M585 879h1M589 879h10M54 880h14M72 880h19M92 880h3M97 880h3M101 880h2M104 880h5M110 880h1M115 880h1M130 880h1M132 880h4M137 880h4M142 880h1M145 880h3M149 880h3M155 880h9M166 880h1M169 880h7M185 880h8M195 880h8M204 880h4M209 880h6M216 880h3M220 880h7M228 880h12M241 880h2M244 880h2M247 880h6M258 880h3M263 880h2M291 880h16M308 880h2M311 880h13M325 880h11M338 880h13M352 880h3M356 880h32M389 880h1M392 880h12M405 880h3M409 880h2M413 880h4M418 880h4M423 880h8M434 880h2M441 880h1M443 880h2M447 880h1M451 880h17M469 880h4M474 880h6M481 880h5M487 880h5M493 880h5M502 880h14M517 880h2M527 880h5M533 880h5M563 880h3M567 880h8M576 880h1M578 880h4M586 880h1M588 880h10M54 881h11M67 881h1M71 881h22M94 881h5M100 881h2M103 881h8M112 881h2M115 881h1M129 881h3M133 881h2M136 881h6M144 881h6M152 881h11M165 881h8M175 881h1M186 881h9M196 881h4M201 881h7M210 881h7M218 881h2M221 881h6M228 881h25M254 881h3M259 881h1M263 881h2M292 881h2M295 881h1M297 881h9M307 881h2M310 881h9M321 881h3M325 881h10M337 881h13M351 881h27M379 881h21M401 881h3M405 881h3M409 881h2M414 881h7M422 881h19M442 881h4M447 881h2M451 881h29M481 881h17M500 881h20M522 881h2M526 881h1M528 881h8M537 881h2M564 881h3M568 881h14M586 881h2M589 881h9M54 882h3M58 882h6M65 882h19M85 882h7M93 882h6M100 882h2M103 882h13M128 882h6M135 882h7M143 882h6M151 882h5M157 882h6M164 882h1M167 882h3M171 882h1M176 882h1M183 882h11M195 882h24M220 882h1M222 882h15M238 882h22M261 882h6M268 882h4M274 882h2M292 882h2M295 882h12M308 882h1M310 882h8M320 882h2M323 882h2M326 882h9M336 882h6M343 882h34M378 882h8M387 882h2M390 882h10M401 882h8M410 882h2M413 882h3M417 882h4M422 882h25M448 882h6M455 882h33M489 882h37M528 882h7M536 882h4M542 882h3M547 882h3M552 882h2M562 882h15M578 882h5M584 882h3M589 882h10M54 883h4M59 883h10M70 883h42M114 883h2M127 883h2M130 883h19M150 883h5M157 883h7M166 883h6M176 883h2M181 883h2M184 883h11M196 883h10M207 883h7M215 883h7M223 883h45M269 883h5M276 883h6M291 883h27M319 883h3M324 883h3M328 883h4M333 883h9M344 883h13M358 883h5M364 883h16M381 883h4M386 883h28M415 883h29M445 883h5M451 883h36M488 883h38M527 883h16M544 883h4M549 883h3M554 883h2M561 883h1M563 883h15M579 883h3M583 883h4M588 883h10M599 883h1M54 884h4M60 884h1M62 884h6M69 884h42M112 884h4M119 884h2M126 884h14M141 884h14M156 884h8M165 884h3M169 884h10M180 884h2M183 884h11M195 884h61M257 884h10M268 884h2M271 884h2M276 884h1M278 884h5M286 884h2M290 884h2M294 884h4M299 884h24M324 884h15M340 884h18M359 884h24M384 884h12M397 884h30M428 884h11M440 884h3M444 884h22M467 884h46M514 884h25M540 884h2M543 884h4M548 884h3M552 884h9M562 884h16M580 884h15M596 884h3M54 885h5M60 885h1M62 885h50M113 885h11M125 885h16M142 885h2M145 885h49M195 885h5M202 885h20M223 885h7M231 885h8M240 885h15M256 885h13M270 885h3M275 885h1M277 885h15M293 885h2M296 885h25M322 885h6M329 885h10M340 885h12M353 885h20M374 885h8M383 885h11M395 885h1M398 885h23M422 885h1M424 885h10M435 885h35M471 885h4M476 885h5M482 885h56M539 885h19M559 885h20M580 885h16M597 885h3M54 886h3M59 886h3M63 886h46M110 886h1M112 886h28M141 886h57M199 886h1M201 886h1M203 886h28M232 886h15M248 886h34M283 886h12M296 886h25M322 886h6M329 886h31M361 886h1M363 886h15M379 886h15M396 886h1M399 886h8M408 886h2M411 886h3M415 886h6M422 886h1M424 886h1M426 886h2M429 886h25M455 886h16M472 886h3M477 886h3M482 886h23M506 886h51M558 886h6M565 886h24M590 886h1M592 886h2M595 886h1M598 886h2M54 887h3M61 887h9M71 887h7M79 887h21M101 887h2M104 887h5M110 887h31M142 887h56M200 887h11M212 887h5M218 887h21M240 887h41M282 887h79M362 887h1M365 887h3M370 887h4M375 887h18M394 887h1M397 887h2M401 887h6M411 887h1M413 887h12M426 887h2M430 887h19M450 887h4M458 887h1M462 887h11M475 887h1M478 887h1M483 887h23M507 887h20M528 887h3M532 887h33M566 887h4M571 887h2M575 887h12M588 887h3M595 887h4M54 888h4M60 888h1M63 888h20M84 888h13M98 888h6M105 888h5M111 888h19M132 888h2M135 888h13M149 888h4M154 888h13M168 888h2M171 888h14M189 888h10M201 888h1M203 888h3M208 888h3M213 888h10M224 888h1M226 888h13M242 888h3M246 888h45M292 888h4M297 888h30M328 888h10M339 888h10M350 888h10M363 888h2M369 888h1M372 888h2M375 888h2M378 888h16M395 888h3M403 888h2M406 888h2M410 888h1M414 888h1M416 888h7M424 888h3M428 888h1M430 888h17M448 888h7M457 888h2M463 888h3M470 888h2M476 888h2M484 888h6M491 888h18M511 888h15M527 888h5M533 888h1M535 888h30M567 888h3M576 888h5M582 888h10M594 888h1M596 888h2M54 889h6M64 889h6M71 889h8M80 889h4M85 889h12M98 889h6M106 889h21M128 889h2M132 889h2M136 889h10M147 889h6M154 889h4M159 889h10M170 889h15M189 889h3M193 889h9M203 889h3M210 889h1M216 889h7M225 889h15M242 889h4M247 889h19M267 889h11M279 889h12M293 889h4M298 889h2M301 889h25M328 889h22M351 889h1M353 889h3M358 889h2M364 889h1M369 889h1M374 889h1M376 889h4M381 889h11M393 889h4M407 889h3M414 889h1M416 889h6M423 889h1M426 889h2M429 889h29M485 889h6M492 889h8M501 889h7M512 889h15M528 889h19M548 889h18M568 889h1M575 889h3M580 889h1M582 889h12M596 889h2M55 890h2M65 890h6M73 890h25M99 890h6M107 890h21M129 890h4M134 890h1M137 890h5M143 890h4M148 890h6M155 890h6M162 890h2M165 890h5M171 890h3M175 890h11M188 890h2M191 890h1M195 890h8M204 890h3M209 890h2M218 890h6M226 890h2M229 890h2M232 890h1M234 890h4M239 890h3M244 890h7M252 890h4M257 890h10M268 890h10M280 890h5M286 890h6M294 890h1M296 890h4M302 890h23M328 890h24M354 890h1M359 890h2M363 890h1M370 890h1M373 890h1M375 890h4M381 890h4M386 890h2M389 890h4M394 890h2M415 890h7M424 890h3M428 890h2M431 890h26M486 890h4M491 890h6M498 890h3M502 890h5M513 890h4M518 890h8M527 890h21M549 890h19M574 890h3M581 890h13M597 890h2M68 891h5M74 891h3M79 891h6M91 891h2M95 891h7M103 891h4M109 891h23M133 891h1M135 891h2M138 891h3M144 891h2M147 891h2M150 891h12M164 891h1M166 891h11M178 891h7M186 891h3M190 891h1M192 891h1M195 891h10M206 891h4M219 891h2M224 891h5M231 891h1M235 891h2M245 891h3M249 891h2M253 891h3M258 891h3M262 891h2M265 891h5M271 891h8M280 891h2M283 891h3M287 891h9M298 891h1M303 891h4M308 891h7M317 891h7M328 891h25M354 891h1M359 891h1M361 891h2M371 891h2M376 891h3M382 891h3M387 891h1M392 891h3M416 891h7M425 891h2M432 891h17M450 891h4M487 891h4M493 891h1M499 891h6M514 891h4M519 891h8M529 891h6M537 891h8M548 891h19M574 891h3M581 891h12M598 891h2M82 892h2M96 892h4M104 892h2M110 892h17M132 892h1M134 892h2M146 892h1M149 892h1M157 892h7M165 892h2M173 892h5M179 892h5M185 892h1M188 892h2M191 892h4M196 892h4M202 892h4M207 892h2M227 892h4M250 892h2M254 892h1M256 892h1M259 892h1M266 892h3M270 892h1M272 892h11M284 892h10M296 892h2M304 892h2M329 892h6M336 892h14M351 892h5M358 892h1M377 892h3M382 892h4M388 892h1M391 892h1M417 892h4M422 892h4M433 892h7M441 892h2M445 892h5M451 892h2M488 892h5M500 892h4M517 892h12M530 892h4M538 892h5M555 892h11M575 892h3M580 892h1M583 892h9M97 893h2M113 893h2M123 893h2M133 893h2M147 893h2M158 893h2M174 893h6M186 893h2M190 893h2M197 893h2M203 893h2M206 893h2M228 893h2M252 893h2M257 893h2M271 893h2M282 893h3M289 893h3M330 893h4M337 893h7M345 893h4M352 893h2M356 893h2M378 893h4M384 893h4M389 893h2M418 893h2M423 893h2M434 893h5M447 893h5M489 893h3M501 893h2M518 893h2M524 893h4M531 893h2M539 893h3M560 893h3M576 893h4M584 893h7"/>
<rect x="53.5" y="832.5" width="547" height="84" fill="none" stroke="#000"/>
<line x1="48" y1="888.5" x2="53" y2="888.5" stroke="#000" stroke-width="1"/>
<text x="43" y="894" font-size="16" font-weight="normal" font-family="'Liberation Sans', sans-serif" text-anchor="end" >10</text>
<line x1="48" y1="860.5" x2="53" y2="860.5" stroke="#000" stroke-width="1"/>
<line x1="48" y1="832.5" x2="53" y2="832.5" stroke="#000" stroke-width="1"/>
<line x1="48" y1="916.5" x2="53" y2="916.5" stroke="#000" stroke-width="1"/>
<line x1="53.5" y1="919" x2="53.5" y2="924" stroke="#000" stroke-width="1"/>
<line x1="123.5" y1="919" x2="123.5" y2="924" stroke="#000" stroke-width="1"/>
<text x="123" y="939" font-size="16" font-weight="normal" font-family="'Liberation Sans', sans-serif" text-anchor="middle" >500</text>
<line x1="193.5" y1="919" x2="193.5" y2="924" stroke="#000" stroke-width="1"/>
<text x="193" y="939" font-size="16" font-weight="normal" font-family="'Liberation Sans', sans-serif" text-anchor="middle" >1000</text>
<line x1="263.5" y1="919" x2="263.5" y2="924" stroke="#000" stroke-width="1"/>
<text x="263" y="939" font-size="16" font-weight="normal" font-family="'Liberation Sans', sans-serif" text-anchor="middle" >1500</text>
<line x1="333.5" y1="919" x2="333.5" y2="924" stroke="#000" stroke-width="1"/>
<text x="333" y="939" font-size="16" font-weight="normal" font-family="'Liberation Sans', sans-serif" text-anchor="middle" >2000</text>
<line x1="403.5" y1="919" x2="403.5" y2="924" stroke="#000" stroke-width="1"/>
<text x="403" y="939" font-size="16" font-weight="normal" font-family="'Liberation Sans', sans-serif" text-anchor="middle" >2500</text>
<line x1="472.5" y1="919" x2="472.5" y2="924" stroke="#000" stroke-width="1"/>
<text x="472" y="939" font-size="16" font-weight="normal" font-family="'Liberation Sans', sans-serif" text-anchor="middle" >3000</text>
<line x1="542.5" y1="919" x2="542.5" y2="924" stroke="#000" stroke-width="1"/>
<text x="542" y="939" font-size="16" font-weight="normal" font-family="'Liberation Sans', sans-serif" text-anchor="middle" >3500</text>
<line x1="600.5" y1="919" x2="600.5" y2="924" stroke="#000" stroke-width="1"/>
<text x="597" y="939" font-size="16" font-weight="normal" font-family="'Liberation Sans', sans-serif" text-anchor="middle" >s</text>
</svg>
</body></html>
